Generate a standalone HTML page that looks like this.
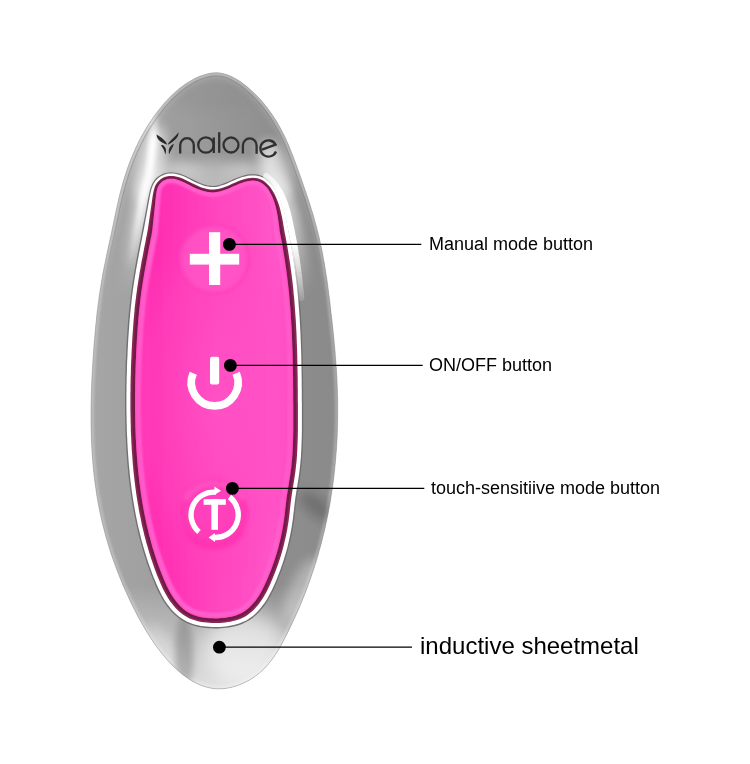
<!DOCTYPE html>
<html><head><meta charset="utf-8">
<style>
html,body{margin:0;padding:0;background:#fff;}
body{width:750px;height:764px;overflow:hidden;position:relative;font-family:"Liberation Sans",sans-serif;}
svg{position:absolute;left:0;top:0;}
.lbl{position:absolute;white-space:nowrap;color:#000;line-height:1;will-change:transform;-webkit-font-smoothing:antialiased;}
</style></head><body>
<svg width="750" height="764" viewBox="0 0 750 764">
<defs>
<clipPath id="clipO"><path d="M214.5,72.8L217.9,72.8L221.2,73.2L224.5,74.0L227.8,75.0L231.0,76.3L234.2,77.9L237.3,79.7L240.3,81.6L243.3,83.8L246.2,86.1L249.0,88.4L251.8,90.9L254.4,93.4L257.0,96.0L259.5,98.6L261.9,101.2L264.2,104.0L266.4,106.7L268.5,109.5L270.6,112.4L272.6,115.2L274.5,118.2L276.4,121.1L278.1,124.1L279.9,127.2L281.5,130.3L283.1,133.4L284.7,136.5L286.2,139.7L287.6,142.9L289.0,146.1L290.3,149.4L291.6,152.7L292.9,156.0L294.2,159.3L295.4,162.6L296.6,165.9L297.8,169.2L299.0,172.6L300.2,175.9L301.4,179.2L302.5,182.6L303.7,185.9L304.8,189.3L306.0,192.6L307.1,195.9L308.2,199.3L309.3,202.6L310.4,206.0L311.4,209.4L312.5,212.7L313.5,216.1L314.4,219.5L315.4,222.9L316.3,226.3L317.2,229.7L318.1,233.1L318.9,236.5L319.7,239.9L320.4,243.4L321.2,246.8L321.9,250.2L322.6,253.7L323.2,257.2L323.8,260.6L324.5,264.1L325.0,267.6L325.6,271.1L326.1,274.6L326.7,278.0L327.2,281.5L327.7,285.0L328.1,288.5L328.6,292.0L329.0,295.5L329.5,299.1L329.9,302.6L330.3,306.1L330.7,309.6L331.1,313.1L331.5,316.6L331.9,320.1L332.3,323.6L332.7,327.1L333.1,330.6L333.4,334.1L333.8,337.6L334.1,341.1L334.4,344.6L334.7,348.1L335.1,351.6L335.3,355.2L335.6,358.7L335.9,362.2L336.1,365.7L336.4,369.2L336.6,372.7L336.8,376.2L337.0,379.7L337.1,383.2L337.3,386.8L337.4,390.3L337.5,393.8L337.6,397.3L337.7,400.9L337.7,404.4L337.7,407.9L337.7,411.4L337.7,415.0L337.7,418.5L337.6,422.0L337.5,425.6L337.4,429.1L337.3,432.6L337.2,436.1L337.0,439.7L336.8,443.2L336.6,446.7L336.4,450.2L336.1,453.8L335.8,457.3L335.5,460.8L335.2,464.3L334.8,467.8L334.5,471.3L334.1,474.8L333.7,478.4L333.2,481.9L332.8,485.4L332.3,488.8L331.7,492.3L331.2,495.8L330.7,499.3L330.1,502.8L329.5,506.2L328.8,509.7L328.2,513.2L327.5,516.6L326.8,520.1L326.0,523.5L325.3,527.0L324.5,530.4L323.7,533.8L322.8,537.2L322.0,540.6L321.1,544.1L320.2,547.4L319.2,550.8L318.3,554.2L317.3,557.6L316.3,561.0L315.2,564.3L314.2,567.7L313.1,571.0L311.9,574.3L310.8,577.7L309.6,581.0L308.4,584.3L307.2,587.6L306.0,590.9L304.7,594.2L303.4,597.4L302.1,600.7L300.7,604.0L299.4,607.2L298.0,610.5L296.5,613.7L295.1,616.9L293.6,620.1L292.1,623.3L290.6,626.5L289.1,629.7L287.5,632.9L285.9,636.1L284.3,639.2L282.6,642.4L280.9,645.5L279.2,648.5L277.4,651.6L275.5,654.5L273.5,657.4L271.4,660.3L269.2,663.0L266.9,665.7L264.6,668.2L262.0,670.7L259.4,673.0L256.6,675.3L253.6,677.4L250.5,679.4L247.3,681.2L244.0,682.8L240.7,684.3L237.2,685.6L233.7,686.7L230.2,687.6L226.7,688.2L223.1,688.7L219.6,688.8L216.2,688.8L212.8,688.4L209.4,687.8L206.1,687.0L202.9,686.0L199.7,684.8L196.5,683.3L193.4,681.7L190.4,680.0L187.5,678.0L184.6,676.0L181.7,673.8L179.0,671.4L176.3,669.0L173.6,666.5L171.0,663.9L168.5,661.2L166.1,658.5L163.8,655.7L161.5,652.9L159.2,650.1L157.1,647.2L155.0,644.4L153.0,641.5L151.0,638.6L149.1,635.6L147.2,632.6L145.4,629.7L143.6,626.6L141.9,623.6L140.2,620.6L138.5,617.5L136.9,614.4L135.3,611.3L133.7,608.2L132.1,605.1L130.6,601.9L129.1,598.7L127.6,595.5L126.2,592.3L124.7,589.1L123.3,585.9L121.9,582.6L120.6,579.4L119.3,576.1L118.0,572.8L116.7,569.5L115.5,566.2L114.3,562.9L113.1,559.6L111.9,556.2L110.8,552.9L109.7,549.5L108.7,546.1L107.7,542.7L106.7,539.4L105.7,536.0L104.8,532.5L103.9,529.1L103.0,525.7L102.2,522.3L101.4,518.8L100.6,515.4L99.9,512.0L99.2,508.5L98.5,505.1L97.9,501.6L97.3,498.1L96.7,494.7L96.2,491.2L95.7,487.7L95.2,484.2L94.7,480.7L94.3,477.2L93.9,473.7L93.5,470.2L93.2,466.7L92.9,463.2L92.6,459.7L92.3,456.2L92.1,452.7L91.9,449.2L91.7,445.7L91.5,442.2L91.4,438.6L91.3,435.1L91.2,431.6L91.1,428.1L91.0,424.5L91.0,421.0L91.0,417.5L91.0,413.9L91.0,410.4L91.0,406.9L91.1,403.3L91.2,399.8L91.3,396.3L91.4,392.7L91.5,389.2L91.6,385.7L91.8,382.1L91.9,378.6L92.1,375.1L92.3,371.5L92.5,368.0L92.7,364.5L92.9,361.0L93.1,357.4L93.4,353.9L93.6,350.4L93.9,346.9L94.2,343.4L94.5,339.9L94.8,336.3L95.1,332.8L95.4,329.3L95.7,325.8L96.1,322.3L96.5,318.8L96.8,315.3L97.2,311.8L97.7,308.3L98.1,304.9L98.6,301.4L99.0,297.9L99.5,294.4L100.0,290.9L100.6,287.5L101.1,284.0L101.7,280.5L102.3,277.1L102.9,273.6L103.6,270.1L104.3,266.7L105.0,263.2L105.7,259.8L106.4,256.3L107.1,252.9L107.9,249.4L108.6,246.0L109.4,242.5L110.1,239.1L110.9,235.6L111.6,232.2L112.3,228.7L113.1,225.2L113.8,221.7L114.5,218.3L115.2,214.8L116.0,211.3L116.7,207.8L117.5,204.4L118.3,200.9L119.1,197.5L119.9,194.0L120.8,190.6L121.7,187.2L122.6,183.8L123.6,180.5L124.6,177.1L125.7,173.8L126.8,170.5L127.9,167.2L129.1,163.9L130.4,160.6L131.7,157.4L133.0,154.2L134.4,151.0L135.8,147.8L137.3,144.7L138.8,141.5L140.4,138.4L142.1,135.3L143.8,132.3L145.6,129.2L147.4,126.2L149.3,123.2L151.3,120.3L153.3,117.3L155.4,114.4L157.5,111.5L159.8,108.7L162.1,105.9L164.4,103.1L166.9,100.4L169.4,97.8L171.9,95.2L174.6,92.7L177.3,90.3L180.0,88.1L182.9,85.9L185.8,83.8L188.7,81.9L191.8,80.2L194.8,78.5L198.0,77.1L201.2,75.8L204.5,74.7L207.8,73.8L211.2,73.1Z"/></clipPath>
<linearGradient id="topfade" x1="0" y1="150" x2="0" y2="300" gradientUnits="userSpaceOnUse"><stop offset="0" stop-color="#fff"/><stop offset="0.4" stop-color="#fff"/><stop offset="1" stop-color="#000"/></linearGradient>
<mask id="maskTop" maskUnits="userSpaceOnUse" x="0" y="0" width="750" height="764"><rect x="0" y="0" width="750" height="764" fill="url(#topfade)"/></mask>
<clipPath id="clipP"><path d="M159.6,184.0L160.9,182.7L162.2,181.5L163.8,180.5L165.5,179.7L167.3,179.1L169.2,178.8L171.1,178.7L173.1,178.8L175.2,179.1L177.4,179.7L179.7,180.5L182.0,181.4L184.4,182.5L186.9,183.7L189.4,185.0L192.1,186.4L194.8,187.7L197.6,188.9L200.5,190.0L203.5,191.0L206.6,191.7L209.9,192.2L213.2,192.4L216.5,192.1L219.7,191.4L222.8,190.6L225.7,189.6L228.5,188.5L231.3,187.3L234.0,186.1L236.6,184.9L239.1,183.8L241.6,182.9L244.0,182.1L246.3,181.4L248.6,181.0L250.8,180.7L253.0,180.6L255.0,180.7L256.9,181.0L258.6,181.5L260.3,182.2L262.0,183.2L263.6,184.4L265.3,185.9L266.9,187.6L268.4,189.5L269.7,191.7L270.9,193.9L272.0,196.1L273.0,198.4L273.9,200.7L274.7,203.1L275.4,205.5L276.0,207.9L276.6,210.4L277.1,212.9L277.6,215.5L278.0,218.1L278.4,220.7L278.8,223.4L279.2,226.1L279.5,228.8L279.8,231.5L280.3,234.2L280.9,236.9L281.4,239.6L281.9,242.2L282.4,244.9L282.8,247.6L283.3,250.3L283.7,253.0L284.2,255.7L284.6,258.4L285.0,261.1L285.4,263.7L285.8,266.4L286.2,269.1L286.6,271.8L286.9,274.5L287.3,277.2L287.6,279.9L287.9,282.6L288.2,285.4L288.5,288.1L288.8,290.8L289.1,293.5L289.3,296.2L289.6,298.9L289.8,301.6L290.0,304.3L290.3,307.0L290.5,309.8L290.7,312.5L290.8,315.2L291.0,317.9L291.2,320.7L291.3,323.4L291.5,326.1L291.6,328.9L291.8,331.6L291.9,334.3L292.0,337.1L292.1,339.8L292.2,342.6L292.3,345.3L292.4,348.0L292.5,350.8L292.6,353.5L292.7,356.3L292.7,359.0L292.8,361.8L292.8,364.5L292.9,367.3L292.9,370.0L293.0,372.8L293.0,375.6L293.1,378.3L293.1,381.1L293.1,383.8L293.1,386.6L293.2,389.4L293.2,392.1L293.2,394.9L293.2,397.7L293.2,400.4L293.3,403.2L293.3,406.0L293.3,408.7L293.3,411.5L293.3,414.3L293.3,417.0L293.3,419.8L293.3,422.5L293.3,425.3L293.3,428.0L293.3,430.7L293.2,433.4L293.2,436.2L293.1,438.9L293.0,441.6L292.9,444.3L292.8,447.0L292.7,449.7L292.6,452.3L292.4,455.0L292.2,457.7L292.0,460.3L291.7,463.0L291.5,465.6L291.2,468.3L290.8,470.9L290.5,473.6L290.1,476.2L289.7,478.9L289.2,481.6L288.8,484.3L288.3,487.1L287.9,489.8L287.5,492.6L287.0,495.5L286.6,498.3L286.3,501.2L285.9,504.0L285.6,506.8L285.3,509.5L285.0,512.3L284.7,514.9L284.4,517.6L284.0,520.2L283.6,522.8L283.2,525.5L282.7,528.1L282.3,530.7L281.8,533.3L281.2,535.9L280.6,538.5L280.1,541.1L279.4,543.6L278.8,546.2L278.1,548.8L277.4,551.3L276.6,553.9L275.8,556.4L275.0,558.9L274.2,561.4L273.3,563.9L272.4,566.4L271.5,568.9L270.5,571.4L269.5,573.9L268.5,576.4L267.5,578.8L266.5,581.3L265.4,583.6L264.3,586.0L263.1,588.3L262.0,590.5L260.8,592.7L259.5,594.9L258.2,596.9L256.8,598.9L255.4,600.9L253.9,602.8L252.3,604.5L250.7,606.2L249.1,607.8L247.4,609.3L245.7,610.6L244.0,611.8L242.2,612.8L240.3,613.8L238.3,614.6L236.2,615.4L234.1,616.1L231.8,616.7L229.5,617.1L227.2,617.5L224.7,617.9L222.3,618.1L219.7,618.3L217.2,618.4L214.6,618.4L212.0,618.3L209.5,618.2L207.0,618.0L204.6,617.7L202.2,617.4L199.9,616.9L197.7,616.4L195.6,615.8L193.5,615.0L191.5,614.2L189.6,613.2L187.7,612.2L185.9,611.0L184.1,609.7L182.4,608.3L180.8,606.7L179.1,605.1L177.6,603.3L176.1,601.5L174.6,599.6L173.2,597.6L171.9,595.6L170.7,593.5L169.4,591.3L168.3,589.1L167.1,586.8L166.0,584.5L165.0,582.1L163.9,579.7L162.9,577.3L161.9,574.8L160.9,572.3L160.0,569.8L159.0,567.3L158.1,564.8L157.2,562.2L156.4,559.7L155.5,557.1L154.7,554.6L153.9,552.0L153.1,549.4L152.3,546.9L151.6,544.3L150.9,541.7L150.2,539.1L149.5,536.5L148.8,533.9L148.2,531.2L147.5,528.6L146.9,526.0L146.3,523.4L145.8,520.7L145.2,518.1L144.7,515.4L144.1,512.8L143.6,510.1L143.2,507.5L142.7,504.8L142.2,502.2L141.8,499.5L141.4,496.8L141.0,494.1L140.6,491.5L140.2,488.8L139.9,486.1L139.5,483.4L139.2,480.7L138.9,478.0L138.6,475.3L138.3,472.6L138.0,469.9L137.8,467.2L137.5,464.5L137.3,461.8L137.1,459.1L136.9,456.4L136.7,453.6L136.5,450.9L136.3,448.2L136.2,445.5L136.0,442.8L135.9,440.0L135.7,437.3L135.6,434.6L135.5,431.8L135.4,429.1L135.3,426.4L135.3,423.6L135.2,420.9L135.2,418.2L135.1,415.4L135.1,412.7L135.0,409.9L135.0,407.2L135.0,404.5L135.0,401.7L135.0,399.0L135.0,396.2L135.0,393.5L135.1,390.7L135.1,388.0L135.1,385.3L135.2,382.5L135.2,379.8L135.3,377.0L135.4,374.3L135.5,371.6L135.5,368.8L135.6,366.1L135.7,363.3L135.8,360.6L136.0,357.9L136.1,355.1L136.2,352.4L136.3,349.6L136.5,346.9L136.6,344.2L136.8,341.4L136.9,338.7L137.1,336.0L137.3,333.2L137.5,330.5L137.6,327.8L137.9,325.1L138.1,322.3L138.3,319.6L138.5,316.9L138.8,314.2L139.0,311.5L139.3,308.8L139.6,306.1L139.9,303.4L140.2,300.7L140.5,298.0L140.9,295.3L141.2,292.6L141.6,289.9L142.0,287.2L142.4,284.6L142.8,281.9L143.2,279.2L143.7,276.5L144.1,273.8L144.6,271.1L145.1,268.4L145.6,265.7L146.1,263.0L146.6,260.3L147.1,257.6L147.6,254.9L148.1,252.2L148.6,249.5L149.1,246.8L149.7,244.0L150.2,241.3L150.7,238.6L151.3,235.9L151.8,233.2L152.2,230.5L152.5,227.7L152.8,225.0L153.1,222.2L153.4,219.5L153.7,216.7L154.0,214.0L154.3,211.2L154.6,208.4L154.9,205.5L155.2,202.6L155.5,199.8L155.8,197.0L156.1,194.3L156.5,191.8L157.0,189.4L157.7,187.3L158.6,185.5Z"/></clipPath>
<filter id="b3" x="-50%" y="-50%" width="200%" height="200%"><feGaussianBlur stdDeviation="3"/></filter>
<filter id="b2" x="-50%" y="-50%" width="200%" height="200%"><feGaussianBlur stdDeviation="2"/></filter>
<filter id="b6" x="-50%" y="-50%" width="200%" height="200%"><feGaussianBlur stdDeviation="6"/></filter>
<filter id="b10" x="-50%" y="-50%" width="200%" height="200%"><feGaussianBlur stdDeviation="10"/></filter>
<filter id="b1" x="-50%" y="-50%" width="200%" height="200%"><feGaussianBlur stdDeviation="1"/></filter>
<filter id="b05" x="-50%" y="-50%" width="200%" height="200%"><feGaussianBlur stdDeviation="0.5"/></filter>
<linearGradient id="silv" x1="91" y1="0" x2="338" y2="0" gradientUnits="userSpaceOnUse">
<stop offset="0" stop-color="#a6a6a6"/>
<stop offset="0.4" stop-color="#9c9c9c"/>
<stop offset="0.75" stop-color="#8e8e8e"/>
<stop offset="1" stop-color="#8a8a8a"/>
</linearGradient>
<linearGradient id="botl" x1="0" y1="585" x2="0" y2="690" gradientUnits="userSpaceOnUse">
<stop offset="0" stop-color="#fff" stop-opacity="0"/>
<stop offset="0.5" stop-color="#fff" stop-opacity="0.35"/>
<stop offset="1" stop-color="#fff" stop-opacity="0.7"/>
</linearGradient>
<linearGradient id="lsf" x1="0" y1="110" x2="0" y2="270" gradientUnits="userSpaceOnUse">
<stop offset="0" stop-color="#fff" stop-opacity="0"/>
<stop offset="0.2" stop-color="#fff" stop-opacity="1"/>
<stop offset="0.55" stop-color="#fff" stop-opacity="0.85"/>
<stop offset="1" stop-color="#fff" stop-opacity="0"/>
</linearGradient>
<linearGradient id="rsf2" x1="0" y1="175" x2="0" y2="310" gradientUnits="userSpaceOnUse">
<stop offset="0" stop-color="#fff" stop-opacity="0.6"/>
<stop offset="0.12" stop-color="#fff" stop-opacity="1"/>
<stop offset="0.5" stop-color="#fff" stop-opacity="1"/>
<stop offset="1" stop-color="#fff" stop-opacity="0"/>
</linearGradient>
<linearGradient id="rsf" x1="0" y1="130" x2="0" y2="290" gradientUnits="userSpaceOnUse">
<stop offset="0" stop-color="#fff" stop-opacity="0"/>
<stop offset="0.2" stop-color="#fff" stop-opacity="0.95"/>
<stop offset="0.5" stop-color="#fff" stop-opacity="0.9"/>
<stop offset="1" stop-color="#fff" stop-opacity="0"/>
</linearGradient>
<radialGradient id="pinkc" cx="214" cy="400" r="120" gradientUnits="userSpaceOnUse" gradientTransform="translate(214 400) scale(0.8 1.6) translate(-214 -400)">
<stop offset="0" stop-color="#ff58c8" stop-opacity="1"/>
<stop offset="0.7" stop-color="#ff4cc2" stop-opacity="0.6"/>
<stop offset="1" stop-color="#ff3ab8" stop-opacity="0"/>
</radialGradient>
<linearGradient id="pinkh" x1="135" y1="0" x2="300" y2="0" gradientUnits="userSpaceOnUse">
<stop offset="0" stop-color="#ff32b4"/>
<stop offset="0.15" stop-color="#ff2eb2"/>
<stop offset="0.5" stop-color="#ff46bf"/>
<stop offset="0.85" stop-color="#ff56c8"/>
<stop offset="1" stop-color="#ff4cc4"/>
</linearGradient>
<radialGradient id="plusg" cx="0.5" cy="0.5" r="0.5">
<stop offset="0" stop-color="#ff58c8"/>
<stop offset="0.85" stop-color="#ff54c6"/>
<stop offset="1" stop-color="#ff3cb8"/>
</radialGradient>
<radialGradient id="tg" cx="0.5" cy="0.5" r="0.5" fx="0.5" fy="0.35">
<stop offset="0" stop-color="#ff46be"/>
<stop offset="0.8" stop-color="#ff3cb8"/>
<stop offset="1" stop-color="#ff34b2"/>
</radialGradient>
</defs>
<g clip-path="url(#clipO)">
<rect x="80" y="60" width="270" height="640" fill="url(#silv)"/>
<path d="M214.5,72.8L217.9,72.8L221.2,73.2L224.5,74.0L227.8,75.0L231.0,76.3L234.2,77.9L237.3,79.7L240.3,81.6L243.3,83.8L246.2,86.1L249.0,88.4L251.8,90.9L254.4,93.4L257.0,96.0L259.5,98.6L261.9,101.2L264.2,104.0L266.4,106.7L268.5,109.5L270.6,112.4L272.6,115.2L274.5,118.2L276.4,121.1L278.1,124.1L279.9,127.2L281.5,130.3L283.1,133.4L284.7,136.5L286.2,139.7L287.6,142.9L289.0,146.1L290.3,149.4L291.6,152.7L292.9,156.0L294.2,159.3L295.4,162.6L296.6,165.9L297.8,169.2L299.0,172.6L300.2,175.9L301.4,179.2L302.5,182.6L303.7,185.9L304.8,189.3L306.0,192.6L307.1,195.9L308.2,199.3L309.3,202.6L310.4,206.0L311.4,209.4L312.5,212.7L313.5,216.1L314.4,219.5L315.4,222.9L316.3,226.3L317.2,229.7L318.1,233.1L318.9,236.5L319.7,239.9L320.4,243.4L321.2,246.8L321.9,250.2L322.6,253.7L323.2,257.2L323.8,260.6L324.5,264.1L325.0,267.6L325.6,271.1L326.1,274.6L326.7,278.0L327.2,281.5L327.7,285.0L328.1,288.5L328.6,292.0L329.0,295.5L329.5,299.1L329.9,302.6L330.3,306.1L330.7,309.6L331.1,313.1L331.5,316.6L331.9,320.1L332.3,323.6L332.7,327.1L333.1,330.6L333.4,334.1L333.8,337.6L334.1,341.1L334.4,344.6L334.7,348.1L335.1,351.6L335.3,355.2L335.6,358.7L335.9,362.2L336.1,365.7L336.4,369.2L336.6,372.7L336.8,376.2L337.0,379.7L337.1,383.2L337.3,386.8L337.4,390.3L337.5,393.8L337.6,397.3L337.7,400.9L337.7,404.4L337.7,407.9L337.7,411.4L337.7,415.0L337.7,418.5L337.6,422.0L337.5,425.6L337.4,429.1L337.3,432.6L337.2,436.1L337.0,439.7L336.8,443.2L336.6,446.7L336.4,450.2L336.1,453.8L335.8,457.3L335.5,460.8L335.2,464.3L334.8,467.8L334.5,471.3L334.1,474.8L333.7,478.4L333.2,481.9L332.8,485.4L332.3,488.8L331.7,492.3L331.2,495.8L330.7,499.3L330.1,502.8L329.5,506.2L328.8,509.7L328.2,513.2L327.5,516.6L326.8,520.1L326.0,523.5L325.3,527.0L324.5,530.4L323.7,533.8L322.8,537.2L322.0,540.6L321.1,544.1L320.2,547.4L319.2,550.8L318.3,554.2L317.3,557.6L316.3,561.0L315.2,564.3L314.2,567.7L313.1,571.0L311.9,574.3L310.8,577.7L309.6,581.0L308.4,584.3L307.2,587.6L306.0,590.9L304.7,594.2L303.4,597.4L302.1,600.7L300.7,604.0L299.4,607.2L298.0,610.5L296.5,613.7L295.1,616.9L293.6,620.1L292.1,623.3L290.6,626.5L289.1,629.7L287.5,632.9L285.9,636.1L284.3,639.2L282.6,642.4L280.9,645.5L279.2,648.5L277.4,651.6L275.5,654.5L273.5,657.4L271.4,660.3L269.2,663.0L266.9,665.7L264.6,668.2L262.0,670.7L259.4,673.0L256.6,675.3L253.6,677.4L250.5,679.4L247.3,681.2L244.0,682.8L240.7,684.3L237.2,685.6L233.7,686.7L230.2,687.6L226.7,688.2L223.1,688.7L219.6,688.8L216.2,688.8L212.8,688.4L209.4,687.8L206.1,687.0L202.9,686.0L199.7,684.8L196.5,683.3L193.4,681.7L190.4,680.0L187.5,678.0L184.6,676.0L181.7,673.8L179.0,671.4L176.3,669.0L173.6,666.5L171.0,663.9L168.5,661.2L166.1,658.5L163.8,655.7L161.5,652.9L159.2,650.1L157.1,647.2L155.0,644.4L153.0,641.5L151.0,638.6L149.1,635.6L147.2,632.6L145.4,629.7L143.6,626.6L141.9,623.6L140.2,620.6L138.5,617.5L136.9,614.4L135.3,611.3L133.7,608.2L132.1,605.1L130.6,601.9L129.1,598.7L127.6,595.5L126.2,592.3L124.7,589.1L123.3,585.9L121.9,582.6L120.6,579.4L119.3,576.1L118.0,572.8L116.7,569.5L115.5,566.2L114.3,562.9L113.1,559.6L111.9,556.2L110.8,552.9L109.7,549.5L108.7,546.1L107.7,542.7L106.7,539.4L105.7,536.0L104.8,532.5L103.9,529.1L103.0,525.7L102.2,522.3L101.4,518.8L100.6,515.4L99.9,512.0L99.2,508.5L98.5,505.1L97.9,501.6L97.3,498.1L96.7,494.7L96.2,491.2L95.7,487.7L95.2,484.2L94.7,480.7L94.3,477.2L93.9,473.7L93.5,470.2L93.2,466.7L92.9,463.2L92.6,459.7L92.3,456.2L92.1,452.7L91.9,449.2L91.7,445.7L91.5,442.2L91.4,438.6L91.3,435.1L91.2,431.6L91.1,428.1L91.0,424.5L91.0,421.0L91.0,417.5L91.0,413.9L91.0,410.4L91.0,406.9L91.1,403.3L91.2,399.8L91.3,396.3L91.4,392.7L91.5,389.2L91.6,385.7L91.8,382.1L91.9,378.6L92.1,375.1L92.3,371.5L92.5,368.0L92.7,364.5L92.9,361.0L93.1,357.4L93.4,353.9L93.6,350.4L93.9,346.9L94.2,343.4L94.5,339.9L94.8,336.3L95.1,332.8L95.4,329.3L95.7,325.8L96.1,322.3L96.5,318.8L96.8,315.3L97.2,311.8L97.7,308.3L98.1,304.9L98.6,301.4L99.0,297.9L99.5,294.4L100.0,290.9L100.6,287.5L101.1,284.0L101.7,280.5L102.3,277.1L102.9,273.6L103.6,270.1L104.3,266.7L105.0,263.2L105.7,259.8L106.4,256.3L107.1,252.9L107.9,249.4L108.6,246.0L109.4,242.5L110.1,239.1L110.9,235.6L111.6,232.2L112.3,228.7L113.1,225.2L113.8,221.7L114.5,218.3L115.2,214.8L116.0,211.3L116.7,207.8L117.5,204.4L118.3,200.9L119.1,197.5L119.9,194.0L120.8,190.6L121.7,187.2L122.6,183.8L123.6,180.5L124.6,177.1L125.7,173.8L126.8,170.5L127.9,167.2L129.1,163.9L130.4,160.6L131.7,157.4L133.0,154.2L134.4,151.0L135.8,147.8L137.3,144.7L138.8,141.5L140.4,138.4L142.1,135.3L143.8,132.3L145.6,129.2L147.4,126.2L149.3,123.2L151.3,120.3L153.3,117.3L155.4,114.4L157.5,111.5L159.8,108.7L162.1,105.9L164.4,103.1L166.9,100.4L169.4,97.8L171.9,95.2L174.6,92.7L177.3,90.3L180.0,88.1L182.9,85.9L185.8,83.8L188.7,81.9L191.8,80.2L194.8,78.5L198.0,77.1L201.2,75.8L204.5,74.7L207.8,73.8L211.2,73.1Z" fill="none" stroke="#fff" stroke-width="6" opacity="0.25" filter="url(#b1)"/>
<!-- bottom light -->
<rect x="80" y="560" width="270" height="140" fill="url(#botl)"/>
<ellipse cx="245" cy="650" rx="42" ry="38" fill="#fff" opacity="0.6" filter="url(#b10)"/>
<ellipse cx="165" cy="650" rx="10" ry="30" fill="#fff" opacity="0.3" filter="url(#b6)" transform="rotate(-35 165 650)"/>
<ellipse cx="184" cy="655" rx="9" ry="40" fill="#707070" opacity="0.4" filter="url(#b3)"/>
<ellipse cx="316" cy="506" rx="20" ry="8" fill="#4a4a4a" opacity="0.45" filter="url(#b6)" transform="rotate(40 316 506)"/>
<ellipse cx="302" cy="590" rx="12" ry="35" fill="#fff" opacity="0.35" filter="url(#b6)" transform="rotate(25 302 590)"/>
<!-- top highlights -->
<path d="M154.6,180.0L156.4,178.0L158.5,176.3L160.7,174.9L163.2,173.8L165.7,172.9L168.4,172.4L171.1,172.3L173.8,172.4L176.5,172.9L179.2,173.6L181.9,174.5L184.5,175.5L187.1,176.7L189.7,178.0L192.3,179.3L194.9,180.6L197.5,181.8L200.0,183.0L202.6,184.0L205.2,184.8L207.8,185.4L210.5,185.8L213.1,185.9L215.7,185.7L218.3,185.2L220.9,184.5L223.5,183.6L226.1,182.5L228.7,181.4L231.4,180.2L234.0,179.1L236.7,177.9L239.4,176.9L242.1,175.9L244.8,175.2L247.6,174.6L250.3,174.3L253.0,174.2L255.7,174.3L258.3,174.8L260.8,175.5L263.2,176.5L265.5,177.8L267.7,179.5L269.7,181.3L271.7,183.4L273.5,185.6L275.2,187.9L276.7,190.3L278.2,192.7L279.5,195.2L280.7,197.7L281.7,200.2L282.7,202.8L283.7,205.4L284.5,208.0L285.3,210.7L286.0,213.3L286.7,216.0L287.3,218.7L287.9,221.4L288.5,224.1L289.0,226.8L289.6,229.6L290.1,232.3L290.7,235.0L291.2,237.7L291.7,240.4L292.2,243.2L292.7,245.9L293.1,248.6L293.6,251.4L294.1,254.1L294.5,256.8L294.9,259.6L295.3,262.3L295.7,265.0L296.1,267.8L296.5,270.5L296.8,273.3L297.2,276.0L297.5,278.7L297.8,281.5L298.1,284.2L298.4,287.0L298.7,289.7L299.0,292.5L299.3,295.3L299.5,298.0L299.8,300.8L300.0,303.5L300.2,306.3L300.4,309.0L300.6,311.8L300.8,314.6L301.0,317.3L301.2,320.1L301.3,322.8L301.5,325.6L301.6,328.4L301.8,331.1L301.9,333.9L302.0,336.7L302.1,339.4L302.2,342.2L302.3,345.0L302.4,347.7L302.5,350.5L302.6,353.3L302.7,356.0L302.7,358.8L302.8,361.6L302.8,364.3L302.9,367.1L302.9,369.9L303.0,372.7L303.0,375.4L303.1,378.2L303.1,381.0L303.1,383.7L303.1,386.5L303.2,389.3L303.2,392.1L303.2,394.8L303.2,397.6L303.2,400.4L303.3,403.1L303.3,405.9L303.3,408.7L303.3,411.5L303.3,414.2L303.3,417.0L303.3,419.8L303.3,422.5L303.3,425.3L303.3,428.1L303.3,430.8L303.2,433.6L303.2,436.4L303.1,439.1L303.0,441.9L302.9,444.7L302.8,447.4L302.7,450.2L302.5,452.9L302.4,455.7L302.2,458.4L301.9,461.2L301.7,464.0L301.4,466.7L301.1,469.5L300.8,472.2L300.4,475.0L300.0,477.7L299.6,480.4L299.1,483.2L298.7,485.9L298.2,488.7L297.8,491.4L297.3,494.2L296.9,496.9L296.5,499.7L296.2,502.4L295.9,505.2L295.6,507.9L295.2,510.6L294.9,513.4L294.6,516.1L294.3,518.9L293.9,521.6L293.5,524.4L293.1,527.1L292.6,529.8L292.1,532.5L291.6,535.3L291.0,538.0L290.4,540.7L289.8,543.4L289.1,546.1L288.4,548.8L287.7,551.4L287.0,554.1L286.2,556.8L285.4,559.4L284.5,562.0L283.6,564.6L282.7,567.3L281.8,569.9L280.8,572.5L279.8,575.0L278.8,577.6L277.8,580.2L276.7,582.7L275.6,585.3L274.5,587.8L273.3,590.3L272.1,592.8L270.8,595.3L269.4,597.7L268.0,600.1L266.5,602.4L265.0,604.7L263.3,607.0L261.6,609.1L259.8,611.3L257.8,613.3L255.8,615.2L253.7,617.0L251.6,618.7L249.3,620.2L246.9,621.6L244.5,622.8L242.0,623.9L239.4,624.9L236.8,625.7L234.1,626.4L231.4,627.0L228.7,627.4L225.9,627.8L223.1,628.1L220.2,628.3L217.4,628.4L214.6,628.4L211.7,628.3L208.9,628.2L206.1,628.0L203.3,627.7L200.5,627.2L197.8,626.7L195.1,626.0L192.5,625.3L189.9,624.3L187.3,623.3L184.9,622.1L182.5,620.7L180.2,619.2L178.0,617.6L175.8,615.8L173.8,613.9L171.8,611.9L170.0,609.8L168.2,607.7L166.5,605.5L165.0,603.2L163.4,600.9L162.0,598.5L160.7,596.1L159.4,593.7L158.1,591.2L157.0,588.7L155.8,586.2L154.7,583.6L153.7,581.1L152.6,578.5L151.6,575.9L150.6,573.3L149.6,570.7L148.7,568.1L147.8,565.5L146.9,562.9L146.0,560.2L145.2,557.6L144.3,555.0L143.5,552.3L142.7,549.7L142.0,547.0L141.2,544.3L140.5,541.7L139.8,539.0L139.1,536.3L138.4,533.6L137.8,530.9L137.2,528.2L136.6,525.5L136.0,522.8L135.4,520.1L134.9,517.4L134.3,514.7L133.8,512.0L133.3,509.2L132.8,506.5L132.4,503.8L131.9,501.1L131.5,498.3L131.1,495.6L130.7,492.9L130.3,490.1L129.9,487.4L129.6,484.6L129.3,481.9L128.9,479.1L128.6,476.4L128.3,473.6L128.1,470.9L127.8,468.1L127.6,465.4L127.3,462.6L127.1,459.9L126.9,457.1L126.7,454.3L126.5,451.6L126.3,448.8L126.2,446.0L126.0,443.3L125.9,440.5L125.8,437.7L125.6,435.0L125.5,432.2L125.4,429.4L125.4,426.7L125.3,423.9L125.2,421.1L125.2,418.3L125.1,415.6L125.1,412.8L125.0,410.0L125.0,407.3L125.0,404.5L125.0,401.7L125.0,398.9L125.0,396.2L125.0,393.4L125.1,390.6L125.1,387.9L125.1,385.1L125.2,382.3L125.2,379.6L125.3,376.8L125.4,374.0L125.5,371.3L125.5,368.5L125.6,365.7L125.7,363.0L125.8,360.2L126.0,357.4L126.1,354.7L126.2,351.9L126.3,349.1L126.5,346.4L126.6,343.6L126.8,340.9L126.9,338.1L127.1,335.3L127.3,332.6L127.5,329.8L127.7,327.1L127.9,324.3L128.1,321.5L128.3,318.8L128.6,316.0L128.8,313.3L129.1,310.5L129.4,307.8L129.7,305.0L130.0,302.3L130.3,299.5L130.6,296.8L131.0,294.0L131.3,291.3L131.7,288.5L132.1,285.8L132.5,283.0L132.9,280.3L133.4,277.6L133.8,274.8L134.3,272.1L134.8,269.4L135.2,266.6L135.7,263.9L136.2,261.2L136.7,258.4L137.2,255.7L137.8,253.0L138.3,250.3L138.8,247.6L139.3,244.8L139.9,242.1L140.4,239.4L140.9,236.7L141.5,234.0L142.0,231.3L142.5,228.6L143.0,225.9L143.5,223.2L144.1,220.5L144.6,217.8L145.1,215.1L145.6,212.4L146.1,209.7L146.6,206.9L147.1,204.1L147.6,201.3L148.1,198.4L148.7,195.6L149.3,192.7L150.0,189.9L150.8,187.2L151.9,184.6L153.1,182.2Z" fill="none" stroke="#fff" stroke-width="22" opacity="0.35" filter="url(#b6)" mask="url(#maskTop)"/>
<path d="M154.0,118.0L153.0,140.0L151.0,160.0L149.0,175.0L146.1,185.5L145.2,188.5L144.4,191.6L143.8,194.6L143.2,197.5L142.7,200.4L142.2,203.2L141.7,206.0L141.2,208.8L140.7,211.5L140.2,214.2L139.7,216.9L139.2,219.6L138.6,222.3L138.1,225.0L137.6,227.6L137.1,230.3L136.5,233.0L136.0,235.7L135.5,238.5L135.0,241.2L134.4,243.9L133.9,246.6L133.4,249.3L132.8,252.1L132.3,254.8L131.8,257.5L131.3,260.3L130.8,263.0L130.3,265.8L129.8,268.5L129.4,271.3L128.9,274.0L128.4,276.8L128.0,279.5L127.6,282.3L127.2,285.1L126.8,287.8L126.4,290.6L126.0,293.4L125.7,296.2L125.3,298.9L125.0,301.7L124.7,304.5L124.4,307.3L124.1,310.0L123.8,312.8L123.6,315.6L123.4,318.4L123.1,321.1L122.9,323.9L122.7,326.7L122.5,329.5L122.3,332.2L122.1,335.0L122.0,337.8L121.8,340.6L121.6,343.3L121.5,346.1L121.3,348.9L121.2,351.7L121.1,354.4L121.0,357.2L120.9,360.0L120.7,362.8L120.6,365.6L120.5,368.3L120.5,371.1L120.4,373.9L120.3,376.7L120.2,379.5" fill="none" stroke="url(#lsf)" stroke-width="18" stroke-linecap="round" opacity="0.4" filter="url(#b6)"/>
<path d="M154.0,118.0L153.0,140.0L151.0,160.0L149.0,175.0L146.1,185.5L145.2,188.5L144.4,191.6L143.8,194.6L143.2,197.5L142.7,200.4L142.2,203.2L141.7,206.0L141.2,208.8L140.7,211.5L140.2,214.2L139.7,216.9L139.2,219.6L138.6,222.3L138.1,225.0L137.6,227.6L137.1,230.3L136.5,233.0L136.0,235.7L135.5,238.5L135.0,241.2L134.4,243.9L133.9,246.6L133.4,249.3L132.8,252.1L132.3,254.8L131.8,257.5L131.3,260.3L130.8,263.0L130.3,265.8L129.8,268.5L129.4,271.3L128.9,274.0L128.4,276.8L128.0,279.5L127.6,282.3L127.2,285.1L126.8,287.8L126.4,290.6L126.0,293.4L125.7,296.2L125.3,298.9L125.0,301.7L124.7,304.5L124.4,307.3L124.1,310.0L123.8,312.8L123.6,315.6L123.4,318.4L123.1,321.1L122.9,323.9L122.7,326.7L122.5,329.5L122.3,332.2L122.1,335.0L122.0,337.8L121.8,340.6L121.6,343.3L121.5,346.1L121.3,348.9L121.2,351.7L121.1,354.4L121.0,357.2L120.9,360.0L120.7,362.8L120.6,365.6L120.5,368.3L120.5,371.1L120.4,373.9L120.3,376.7L120.2,379.5" fill="none" stroke="url(#lsf)" stroke-width="8" stroke-linecap="round" filter="url(#b2)"/>
<path d="M266.0,148.0L267.0,160.0L268.0,170.0L271.3,179.8L273.3,181.9L275.2,184.2L277.0,186.6L278.6,189.1L280.1,191.6L281.4,194.2L282.7,196.8L283.8,199.4L284.8,202.0L285.7,204.7L286.6,207.4L287.4,210.1L288.1,212.8L288.8,215.5L289.4,218.2L290.0,220.9L290.6,223.7L291.2,226.4L291.8,229.1L292.3,231.8L292.8,234.6L293.4,237.3L293.9,240.0L294.4,242.8L294.8,245.5L295.3,248.3L295.8,251.0L296.2,253.7L296.7,256.5L297.1,259.2L297.5,262.0L297.9,264.7L298.3,267.5L298.6,270.2L299.0,273.0L299.4,275.7L299.7,278.5L300.0,281.2L300.3,284.0L300.6,286.8L300.9,289.5L301.2,292.3L301.5,295.0L301.7,297.8" fill="none" stroke="url(#rsf)" stroke-width="16" stroke-linecap="round" opacity="0.45" filter="url(#b6)"/>
<ellipse cx="214" cy="95" rx="40" ry="15" fill="#888" opacity="0.25" filter="url(#b6)"/>
<path d="M214.5,72.8L217.9,72.8L221.2,73.2L224.5,74.0L227.8,75.0L231.0,76.3L234.2,77.9L237.3,79.7L240.3,81.6L243.3,83.8L246.2,86.1L249.0,88.4L251.8,90.9L254.4,93.4L257.0,96.0L259.5,98.6L261.9,101.2L264.2,104.0L266.4,106.7L268.5,109.5L270.6,112.4L272.6,115.2L274.5,118.2L276.4,121.1L278.1,124.1L279.9,127.2L281.5,130.3L283.1,133.4L284.7,136.5L286.2,139.7L287.6,142.9L289.0,146.1L290.3,149.4L291.6,152.7L292.9,156.0L294.2,159.3L295.4,162.6L296.6,165.9L297.8,169.2L299.0,172.6L300.2,175.9L301.4,179.2L302.5,182.6L303.7,185.9L304.8,189.3L306.0,192.6L307.1,195.9L308.2,199.3L309.3,202.6L310.4,206.0L311.4,209.4L312.5,212.7L313.5,216.1L314.4,219.5L315.4,222.9L316.3,226.3L317.2,229.7L318.1,233.1L318.9,236.5L319.7,239.9L320.4,243.4L321.2,246.8L321.9,250.2L322.6,253.7L323.2,257.2L323.8,260.6L324.5,264.1L325.0,267.6L325.6,271.1L326.1,274.6L326.7,278.0L327.2,281.5L327.7,285.0L328.1,288.5L328.6,292.0L329.0,295.5L329.5,299.1L329.9,302.6L330.3,306.1L330.7,309.6L331.1,313.1L331.5,316.6L331.9,320.1L332.3,323.6L332.7,327.1L333.1,330.6L333.4,334.1L333.8,337.6L334.1,341.1L334.4,344.6L334.7,348.1L335.1,351.6L335.3,355.2L335.6,358.7L335.9,362.2L336.1,365.7L336.4,369.2L336.6,372.7L336.8,376.2L337.0,379.7L337.1,383.2L337.3,386.8L337.4,390.3L337.5,393.8L337.6,397.3L337.7,400.9L337.7,404.4L337.7,407.9L337.7,411.4L337.7,415.0L337.7,418.5L337.6,422.0L337.5,425.6L337.4,429.1L337.3,432.6L337.2,436.1L337.0,439.7L336.8,443.2L336.6,446.7L336.4,450.2L336.1,453.8L335.8,457.3L335.5,460.8L335.2,464.3L334.8,467.8L334.5,471.3L334.1,474.8L333.7,478.4L333.2,481.9L332.8,485.4L332.3,488.8L331.7,492.3L331.2,495.8L330.7,499.3L330.1,502.8L329.5,506.2L328.8,509.7L328.2,513.2L327.5,516.6L326.8,520.1L326.0,523.5L325.3,527.0L324.5,530.4L323.7,533.8L322.8,537.2L322.0,540.6L321.1,544.1L320.2,547.4L319.2,550.8L318.3,554.2L317.3,557.6L316.3,561.0L315.2,564.3L314.2,567.7L313.1,571.0L311.9,574.3L310.8,577.7L309.6,581.0L308.4,584.3L307.2,587.6L306.0,590.9L304.7,594.2L303.4,597.4L302.1,600.7L300.7,604.0L299.4,607.2L298.0,610.5L296.5,613.7L295.1,616.9L293.6,620.1L292.1,623.3L290.6,626.5L289.1,629.7L287.5,632.9L285.9,636.1L284.3,639.2L282.6,642.4L280.9,645.5L279.2,648.5L277.4,651.6L275.5,654.5L273.5,657.4L271.4,660.3L269.2,663.0L266.9,665.7L264.6,668.2L262.0,670.7L259.4,673.0L256.6,675.3L253.6,677.4L250.5,679.4L247.3,681.2L244.0,682.8L240.7,684.3L237.2,685.6L233.7,686.7L230.2,687.6L226.7,688.2L223.1,688.7L219.6,688.8L216.2,688.8L212.8,688.4L209.4,687.8L206.1,687.0L202.9,686.0L199.7,684.8L196.5,683.3L193.4,681.7L190.4,680.0L187.5,678.0L184.6,676.0L181.7,673.8L179.0,671.4L176.3,669.0L173.6,666.5L171.0,663.9L168.5,661.2L166.1,658.5L163.8,655.7L161.5,652.9L159.2,650.1L157.1,647.2L155.0,644.4L153.0,641.5L151.0,638.6L149.1,635.6L147.2,632.6L145.4,629.7L143.6,626.6L141.9,623.6L140.2,620.6L138.5,617.5L136.9,614.4L135.3,611.3L133.7,608.2L132.1,605.1L130.6,601.9L129.1,598.7L127.6,595.5L126.2,592.3L124.7,589.1L123.3,585.9L121.9,582.6L120.6,579.4L119.3,576.1L118.0,572.8L116.7,569.5L115.5,566.2L114.3,562.9L113.1,559.6L111.9,556.2L110.8,552.9L109.7,549.5L108.7,546.1L107.7,542.7L106.7,539.4L105.7,536.0L104.8,532.5L103.9,529.1L103.0,525.7L102.2,522.3L101.4,518.8L100.6,515.4L99.9,512.0L99.2,508.5L98.5,505.1L97.9,501.6L97.3,498.1L96.7,494.7L96.2,491.2L95.7,487.7L95.2,484.2L94.7,480.7L94.3,477.2L93.9,473.7L93.5,470.2L93.2,466.7L92.9,463.2L92.6,459.7L92.3,456.2L92.1,452.7L91.9,449.2L91.7,445.7L91.5,442.2L91.4,438.6L91.3,435.1L91.2,431.6L91.1,428.1L91.0,424.5L91.0,421.0L91.0,417.5L91.0,413.9L91.0,410.4L91.0,406.9L91.1,403.3L91.2,399.8L91.3,396.3L91.4,392.7L91.5,389.2L91.6,385.7L91.8,382.1L91.9,378.6L92.1,375.1L92.3,371.5L92.5,368.0L92.7,364.5L92.9,361.0L93.1,357.4L93.4,353.9L93.6,350.4L93.9,346.9L94.2,343.4L94.5,339.9L94.8,336.3L95.1,332.8L95.4,329.3L95.7,325.8L96.1,322.3L96.5,318.8L96.8,315.3L97.2,311.8L97.7,308.3L98.1,304.9L98.6,301.4L99.0,297.9L99.5,294.4L100.0,290.9L100.6,287.5L101.1,284.0L101.7,280.5L102.3,277.1L102.9,273.6L103.6,270.1L104.3,266.7L105.0,263.2L105.7,259.8L106.4,256.3L107.1,252.9L107.9,249.4L108.6,246.0L109.4,242.5L110.1,239.1L110.9,235.6L111.6,232.2L112.3,228.7L113.1,225.2L113.8,221.7L114.5,218.3L115.2,214.8L116.0,211.3L116.7,207.8L117.5,204.4L118.3,200.9L119.1,197.5L119.9,194.0L120.8,190.6L121.7,187.2L122.6,183.8L123.6,180.5L124.6,177.1L125.7,173.8L126.8,170.5L127.9,167.2L129.1,163.9L130.4,160.6L131.7,157.4L133.0,154.2L134.4,151.0L135.8,147.8L137.3,144.7L138.8,141.5L140.4,138.4L142.1,135.3L143.8,132.3L145.6,129.2L147.4,126.2L149.3,123.2L151.3,120.3L153.3,117.3L155.4,114.4L157.5,111.5L159.8,108.7L162.1,105.9L164.4,103.1L166.9,100.4L169.4,97.8L171.9,95.2L174.6,92.7L177.3,90.3L180.0,88.1L182.9,85.9L185.8,83.8L188.7,81.9L191.8,80.2L194.8,78.5L198.0,77.1L201.2,75.8L204.5,74.7L207.8,73.8L211.2,73.1Z" fill="none" stroke="#fff" stroke-width="10" opacity="0.15" filter="url(#b3)" mask="url(#maskTop)"/>
<ellipse cx="214" cy="168" rx="42" ry="7" fill="#fff" opacity="0.3" filter="url(#b6)"/>
<ellipse cx="150" cy="165" rx="14" ry="38" fill="#fff" opacity="0.45" filter="url(#b6)" transform="rotate(15 150 165)"/>
<ellipse cx="277" cy="170" rx="12" ry="30" fill="#fff" opacity="0.55" filter="url(#b6)" transform="rotate(-20 277 170)"/>
</g>
<path d="M214.7,76.0L217.7,76.0L220.7,76.4L223.7,77.1L226.7,78.0L229.7,79.2L232.7,80.7L235.6,82.4L238.5,84.3L241.4,86.3L244.2,88.5L246.9,90.9L249.6,93.2L252.2,95.7L254.7,98.2L257.1,100.7L259.4,103.3L261.7,106.0L263.9,108.7L266.0,111.4L268.0,114.2L269.9,117.0L271.8,119.9L273.6,122.8L275.4,125.7L277.1,128.7L278.7,131.8L280.3,134.8L281.8,137.9L283.2,141.0L284.7,144.2L286.0,147.4L287.4,150.6L288.7,153.8L289.9,157.1L291.2,160.4L292.4,163.7L293.6,167.0L294.8,170.3L296.0,173.6L297.2,177.0L298.3,180.3L299.5,183.6L300.7,187.0L301.8,190.3L302.9,193.6L304.1,197.0L305.2,200.3L306.3,203.6L307.3,207.0L308.4,210.3L309.4,213.7L310.4,217.0L311.4,220.4L312.3,223.7L313.2,227.1L314.1,230.5L315.0,233.8L315.8,237.2L316.6,240.6L317.3,244.0L318.0,247.4L318.7,250.9L319.4,254.3L320.1,257.7L320.7,261.2L321.3,264.6L321.9,268.1L322.4,271.6L323.0,275.0L323.5,278.5L324.0,282.0L324.5,285.5L325.0,289.0L325.4,292.5L325.9,296.0L326.3,299.4L326.7,302.9L327.2,306.4L327.6,309.9L328.0,313.4L328.4,316.9L328.7,320.5L329.1,323.9L329.5,327.4L329.9,330.9L330.2,334.4L330.6,337.9L330.9,341.4L331.2,344.9L331.6,348.4L331.9,351.9L332.2,355.4L332.4,358.9L332.7,362.4L332.9,365.9L333.2,369.4L333.4,372.9L333.6,376.4L333.8,379.9L333.9,383.4L334.1,386.9L334.2,390.4L334.3,393.9L334.4,397.4L334.5,400.9L334.5,404.4L334.5,407.9L334.5,411.4L334.5,414.9L334.5,418.4L334.4,422.0L334.3,425.5L334.2,429.0L334.1,432.5L334.0,436.0L333.8,439.5L333.6,443.0L333.4,446.5L333.2,450.0L332.9,453.5L332.6,457.0L332.3,460.5L332.0,464.0L331.7,467.5L331.3,471.0L330.9,474.5L330.5,478.0L330.0,481.4L329.6,484.9L329.1,488.4L328.6,491.9L328.1,495.3L327.5,498.8L326.9,502.2L326.3,505.7L325.7,509.1L325.0,512.6L324.3,516.0L323.6,519.4L322.9,522.8L322.2,526.3L321.4,529.7L320.6,533.1L319.7,536.5L318.9,539.9L318.0,543.2L317.1,546.6L316.2,550.0L315.2,553.3L314.2,556.7L313.2,560.0L312.2,563.4L311.1,566.7L310.0,570.0L308.9,573.3L307.8,576.6L306.6,579.9L305.4,583.2L304.2,586.5L303.0,589.7L301.7,593.0L300.4,596.3L299.1,599.5L297.8,602.7L296.4,606.0L295.0,609.2L293.6,612.4L292.2,615.6L290.7,618.8L289.2,622.0L287.7,625.2L286.2,628.3L284.6,631.5L283.1,634.6L281.5,637.8L279.8,640.9L278.2,643.9L276.4,646.9L274.6,649.9L272.8,652.8L270.9,655.6L268.9,658.3L266.8,661.0L264.6,663.5L262.3,666.0L259.9,668.4L257.3,670.6L254.6,672.7L251.8,674.7L248.9,676.6L245.8,678.4L242.7,679.9L239.5,681.3L236.2,682.6L232.8,683.6L229.5,684.5L226.2,685.1L222.9,685.5L219.6,685.6L216.4,685.6L213.2,685.2L210.1,684.7L207.0,683.9L203.9,683.0L200.9,681.8L197.9,680.5L195.0,678.9L192.1,677.2L189.3,675.4L186.5,673.4L183.7,671.3L181.1,669.0L178.4,666.7L175.9,664.2L173.4,661.7L170.9,659.1L168.5,656.4L166.2,653.7L164.0,650.9L161.8,648.1L159.7,645.3L157.6,642.5L155.6,639.7L153.7,636.8L151.8,633.9L150.0,631.0L148.2,628.0L146.4,625.0L144.7,622.0L143.0,619.0L141.4,616.0L139.7,612.9L138.1,609.9L136.6,606.8L135.0,603.6L133.5,600.5L132.0,597.4L130.5,594.2L129.1,591.0L127.7,587.8L126.3,584.6L124.9,581.4L123.6,578.2L122.2,574.9L121.0,571.7L119.7,568.4L118.5,565.1L117.3,561.8L116.1,558.5L115.0,555.2L113.9,551.9L112.8,548.5L111.7,545.2L110.7,541.8L109.7,538.5L108.8,535.1L107.9,531.7L107.0,528.3L106.1,524.9L105.3,521.5L104.5,518.1L103.7,514.7L103.0,511.3L102.3,507.9L101.7,504.5L101.0,501.0L100.4,497.6L99.9,494.1L99.3,490.7L98.8,487.2L98.4,483.8L97.9,480.3L97.5,476.9L97.1,473.4L96.7,469.9L96.4,466.4L96.1,463.0L95.8,459.5L95.5,456.0L95.3,452.5L95.1,449.0L94.9,445.5L94.7,442.0L94.6,438.5L94.5,435.0L94.4,431.5L94.3,428.0L94.2,424.5L94.2,421.0L94.2,417.5L94.2,413.9L94.2,410.4L94.2,406.9L94.3,403.4L94.4,399.9L94.5,396.4L94.6,392.8L94.7,389.3L94.8,385.8L95.0,382.3L95.1,378.8L95.3,375.2L95.5,371.7L95.7,368.2L95.9,364.7L96.1,361.2L96.3,357.7L96.6,354.1L96.8,350.6L97.1,347.1L97.4,343.6L97.6,340.1L97.9,336.6L98.3,333.1L98.6,329.6L98.9,326.1L99.3,322.7L99.6,319.2L100.0,315.7L100.4,312.2L100.8,308.7L101.3,305.3L101.7,301.8L102.2,298.3L102.7,294.9L103.2,291.4L103.7,288.0L104.3,284.5L104.9,281.1L105.5,277.6L106.1,274.2L106.7,270.7L107.4,267.3L108.1,263.9L108.8,260.4L109.5,257.0L110.2,253.6L111.0,250.1L111.7,246.7L112.5,243.2L113.2,239.8L114.0,236.3L114.7,232.8L115.5,229.3L116.2,225.9L116.9,222.4L117.6,218.9L118.4,215.4L119.1,212.0L119.8,208.5L120.6,205.1L121.4,201.6L122.2,198.2L123.0,194.8L123.9,191.4L124.8,188.1L125.7,184.7L126.7,181.4L127.7,178.1L128.7,174.8L129.8,171.5L131.0,168.3L132.1,165.0L133.4,161.8L134.6,158.6L135.9,155.4L137.3,152.3L138.7,149.2L140.2,146.1L141.7,143.0L143.3,139.9L144.9,136.9L146.6,133.9L148.3,130.9L150.1,127.9L152.0,125.0L153.9,122.1L155.9,119.2L158.0,116.3L160.1,113.5L162.3,110.7L164.5,107.9L166.8,105.2L169.2,102.6L171.7,100.0L174.2,97.5L176.7,95.1L179.4,92.8L182.0,90.6L184.8,88.5L187.6,86.5L190.4,84.7L193.3,83.0L196.3,81.4L199.3,80.0L202.3,78.8L205.4,77.7L208.5,76.9L211.6,76.3Z" fill="none" stroke="#6a6a6a" stroke-width="1.2" opacity="0.35" filter="url(#b05)" mask="url(#maskTop)" clip-path="url(#clipO)"/>
<path d="M214.5,72.8L217.9,72.8L221.2,73.2L224.5,74.0L227.8,75.0L231.0,76.3L234.2,77.9L237.3,79.7L240.3,81.6L243.3,83.8L246.2,86.1L249.0,88.4L251.8,90.9L254.4,93.4L257.0,96.0L259.5,98.6L261.9,101.2L264.2,104.0L266.4,106.7L268.5,109.5L270.6,112.4L272.6,115.2L274.5,118.2L276.4,121.1L278.1,124.1L279.9,127.2L281.5,130.3L283.1,133.4L284.7,136.5L286.2,139.7L287.6,142.9L289.0,146.1L290.3,149.4L291.6,152.7L292.9,156.0L294.2,159.3L295.4,162.6L296.6,165.9L297.8,169.2L299.0,172.6L300.2,175.9L301.4,179.2L302.5,182.6L303.7,185.9L304.8,189.3L306.0,192.6L307.1,195.9L308.2,199.3L309.3,202.6L310.4,206.0L311.4,209.4L312.5,212.7L313.5,216.1L314.4,219.5L315.4,222.9L316.3,226.3L317.2,229.7L318.1,233.1L318.9,236.5L319.7,239.9L320.4,243.4L321.2,246.8L321.9,250.2L322.6,253.7L323.2,257.2L323.8,260.6L324.5,264.1L325.0,267.6L325.6,271.1L326.1,274.6L326.7,278.0L327.2,281.5L327.7,285.0L328.1,288.5L328.6,292.0L329.0,295.5L329.5,299.1L329.9,302.6L330.3,306.1L330.7,309.6L331.1,313.1L331.5,316.6L331.9,320.1L332.3,323.6L332.7,327.1L333.1,330.6L333.4,334.1L333.8,337.6L334.1,341.1L334.4,344.6L334.7,348.1L335.1,351.6L335.3,355.2L335.6,358.7L335.9,362.2L336.1,365.7L336.4,369.2L336.6,372.7L336.8,376.2L337.0,379.7L337.1,383.2L337.3,386.8L337.4,390.3L337.5,393.8L337.6,397.3L337.7,400.9L337.7,404.4L337.7,407.9L337.7,411.4L337.7,415.0L337.7,418.5L337.6,422.0L337.5,425.6L337.4,429.1L337.3,432.6L337.2,436.1L337.0,439.7L336.8,443.2L336.6,446.7L336.4,450.2L336.1,453.8L335.8,457.3L335.5,460.8L335.2,464.3L334.8,467.8L334.5,471.3L334.1,474.8L333.7,478.4L333.2,481.9L332.8,485.4L332.3,488.8L331.7,492.3L331.2,495.8L330.7,499.3L330.1,502.8L329.5,506.2L328.8,509.7L328.2,513.2L327.5,516.6L326.8,520.1L326.0,523.5L325.3,527.0L324.5,530.4L323.7,533.8L322.8,537.2L322.0,540.6L321.1,544.1L320.2,547.4L319.2,550.8L318.3,554.2L317.3,557.6L316.3,561.0L315.2,564.3L314.2,567.7L313.1,571.0L311.9,574.3L310.8,577.7L309.6,581.0L308.4,584.3L307.2,587.6L306.0,590.9L304.7,594.2L303.4,597.4L302.1,600.7L300.7,604.0L299.4,607.2L298.0,610.5L296.5,613.7L295.1,616.9L293.6,620.1L292.1,623.3L290.6,626.5L289.1,629.7L287.5,632.9L285.9,636.1L284.3,639.2L282.6,642.4L280.9,645.5L279.2,648.5L277.4,651.6L275.5,654.5L273.5,657.4L271.4,660.3L269.2,663.0L266.9,665.7L264.6,668.2L262.0,670.7L259.4,673.0L256.6,675.3L253.6,677.4L250.5,679.4L247.3,681.2L244.0,682.8L240.7,684.3L237.2,685.6L233.7,686.7L230.2,687.6L226.7,688.2L223.1,688.7L219.6,688.8L216.2,688.8L212.8,688.4L209.4,687.8L206.1,687.0L202.9,686.0L199.7,684.8L196.5,683.3L193.4,681.7L190.4,680.0L187.5,678.0L184.6,676.0L181.7,673.8L179.0,671.4L176.3,669.0L173.6,666.5L171.0,663.9L168.5,661.2L166.1,658.5L163.8,655.7L161.5,652.9L159.2,650.1L157.1,647.2L155.0,644.4L153.0,641.5L151.0,638.6L149.1,635.6L147.2,632.6L145.4,629.7L143.6,626.6L141.9,623.6L140.2,620.6L138.5,617.5L136.9,614.4L135.3,611.3L133.7,608.2L132.1,605.1L130.6,601.9L129.1,598.7L127.6,595.5L126.2,592.3L124.7,589.1L123.3,585.9L121.9,582.6L120.6,579.4L119.3,576.1L118.0,572.8L116.7,569.5L115.5,566.2L114.3,562.9L113.1,559.6L111.9,556.2L110.8,552.9L109.7,549.5L108.7,546.1L107.7,542.7L106.7,539.4L105.7,536.0L104.8,532.5L103.9,529.1L103.0,525.7L102.2,522.3L101.4,518.8L100.6,515.4L99.9,512.0L99.2,508.5L98.5,505.1L97.9,501.6L97.3,498.1L96.7,494.7L96.2,491.2L95.7,487.7L95.2,484.2L94.7,480.7L94.3,477.2L93.9,473.7L93.5,470.2L93.2,466.7L92.9,463.2L92.6,459.7L92.3,456.2L92.1,452.7L91.9,449.2L91.7,445.7L91.5,442.2L91.4,438.6L91.3,435.1L91.2,431.6L91.1,428.1L91.0,424.5L91.0,421.0L91.0,417.5L91.0,413.9L91.0,410.4L91.0,406.9L91.1,403.3L91.2,399.8L91.3,396.3L91.4,392.7L91.5,389.2L91.6,385.7L91.8,382.1L91.9,378.6L92.1,375.1L92.3,371.5L92.5,368.0L92.7,364.5L92.9,361.0L93.1,357.4L93.4,353.9L93.6,350.4L93.9,346.9L94.2,343.4L94.5,339.9L94.8,336.3L95.1,332.8L95.4,329.3L95.7,325.8L96.1,322.3L96.5,318.8L96.8,315.3L97.2,311.8L97.7,308.3L98.1,304.9L98.6,301.4L99.0,297.9L99.5,294.4L100.0,290.9L100.6,287.5L101.1,284.0L101.7,280.5L102.3,277.1L102.9,273.6L103.6,270.1L104.3,266.7L105.0,263.2L105.7,259.8L106.4,256.3L107.1,252.9L107.9,249.4L108.6,246.0L109.4,242.5L110.1,239.1L110.9,235.6L111.6,232.2L112.3,228.7L113.1,225.2L113.8,221.7L114.5,218.3L115.2,214.8L116.0,211.3L116.7,207.8L117.5,204.4L118.3,200.9L119.1,197.5L119.9,194.0L120.8,190.6L121.7,187.2L122.6,183.8L123.6,180.5L124.6,177.1L125.7,173.8L126.8,170.5L127.9,167.2L129.1,163.9L130.4,160.6L131.7,157.4L133.0,154.2L134.4,151.0L135.8,147.8L137.3,144.7L138.8,141.5L140.4,138.4L142.1,135.3L143.8,132.3L145.6,129.2L147.4,126.2L149.3,123.2L151.3,120.3L153.3,117.3L155.4,114.4L157.5,111.5L159.8,108.7L162.1,105.9L164.4,103.1L166.9,100.4L169.4,97.8L171.9,95.2L174.6,92.7L177.3,90.3L180.0,88.1L182.9,85.9L185.8,83.8L188.7,81.9L191.8,80.2L194.8,78.5L198.0,77.1L201.2,75.8L204.5,74.7L207.8,73.8L211.2,73.1Z" fill="none" stroke="#777" stroke-width="0.9" opacity="0.45"/>
<path d="M154.6,180.0L156.4,178.0L158.5,176.3L160.7,174.9L163.2,173.8L165.7,172.9L168.4,172.4L171.1,172.3L173.8,172.4L176.5,172.9L179.2,173.6L181.9,174.5L184.5,175.5L187.1,176.7L189.7,178.0L192.3,179.3L194.9,180.6L197.5,181.8L200.0,183.0L202.6,184.0L205.2,184.8L207.8,185.4L210.5,185.8L213.1,185.9L215.7,185.7L218.3,185.2L220.9,184.5L223.5,183.6L226.1,182.5L228.7,181.4L231.4,180.2L234.0,179.1L236.7,177.9L239.4,176.9L242.1,175.9L244.8,175.2L247.6,174.6L250.3,174.3L253.0,174.2L255.7,174.3L258.3,174.8L260.8,175.5L263.2,176.5L265.5,177.8L267.7,179.5L269.7,181.3L271.7,183.4L273.5,185.6L275.2,187.9L276.7,190.3L278.2,192.7L279.5,195.2L280.7,197.7L281.7,200.2L282.7,202.8L283.7,205.4L284.5,208.0L285.3,210.7L286.0,213.3L286.7,216.0L287.3,218.7L287.9,221.4L288.5,224.1L289.0,226.8L289.6,229.6L290.1,232.3L290.7,235.0L291.2,237.7L291.7,240.4L292.2,243.2L292.7,245.9L293.1,248.6L293.6,251.4L294.1,254.1L294.5,256.8L294.9,259.6L295.3,262.3L295.7,265.0L296.1,267.8L296.5,270.5L296.8,273.3L297.2,276.0L297.5,278.7L297.8,281.5L298.1,284.2L298.4,287.0L298.7,289.7L299.0,292.5L299.3,295.3L299.5,298.0L299.8,300.8L300.0,303.5L300.2,306.3L300.4,309.0L300.6,311.8L300.8,314.6L301.0,317.3L301.2,320.1L301.3,322.8L301.5,325.6L301.6,328.4L301.8,331.1L301.9,333.9L302.0,336.7L302.1,339.4L302.2,342.2L302.3,345.0L302.4,347.7L302.5,350.5L302.6,353.3L302.7,356.0L302.7,358.8L302.8,361.6L302.8,364.3L302.9,367.1L302.9,369.9L303.0,372.7L303.0,375.4L303.1,378.2L303.1,381.0L303.1,383.7L303.1,386.5L303.2,389.3L303.2,392.1L303.2,394.8L303.2,397.6L303.2,400.4L303.3,403.1L303.3,405.9L303.3,408.7L303.3,411.5L303.3,414.2L303.3,417.0L303.3,419.8L303.3,422.5L303.3,425.3L303.3,428.1L303.3,430.8L303.2,433.6L303.2,436.4L303.1,439.1L303.0,441.9L302.9,444.7L302.8,447.4L302.7,450.2L302.5,452.9L302.4,455.7L302.2,458.4L301.9,461.2L301.7,464.0L301.4,466.7L301.1,469.5L300.8,472.2L300.4,475.0L300.0,477.7L299.6,480.4L299.1,483.2L298.7,485.9L298.2,488.7L297.8,491.4L297.3,494.2L296.9,496.9L296.5,499.7L296.2,502.4L295.9,505.2L295.6,507.9L295.2,510.6L294.9,513.4L294.6,516.1L294.3,518.9L293.9,521.6L293.5,524.4L293.1,527.1L292.6,529.8L292.1,532.5L291.6,535.3L291.0,538.0L290.4,540.7L289.8,543.4L289.1,546.1L288.4,548.8L287.7,551.4L287.0,554.1L286.2,556.8L285.4,559.4L284.5,562.0L283.6,564.6L282.7,567.3L281.8,569.9L280.8,572.5L279.8,575.0L278.8,577.6L277.8,580.2L276.7,582.7L275.6,585.3L274.5,587.8L273.3,590.3L272.1,592.8L270.8,595.3L269.4,597.7L268.0,600.1L266.5,602.4L265.0,604.7L263.3,607.0L261.6,609.1L259.8,611.3L257.8,613.3L255.8,615.2L253.7,617.0L251.6,618.7L249.3,620.2L246.9,621.6L244.5,622.8L242.0,623.9L239.4,624.9L236.8,625.7L234.1,626.4L231.4,627.0L228.7,627.4L225.9,627.8L223.1,628.1L220.2,628.3L217.4,628.4L214.6,628.4L211.7,628.3L208.9,628.2L206.1,628.0L203.3,627.7L200.5,627.2L197.8,626.7L195.1,626.0L192.5,625.3L189.9,624.3L187.3,623.3L184.9,622.1L182.5,620.7L180.2,619.2L178.0,617.6L175.8,615.8L173.8,613.9L171.8,611.9L170.0,609.8L168.2,607.7L166.5,605.5L165.0,603.2L163.4,600.9L162.0,598.5L160.7,596.1L159.4,593.7L158.1,591.2L157.0,588.7L155.8,586.2L154.7,583.6L153.7,581.1L152.6,578.5L151.6,575.9L150.6,573.3L149.6,570.7L148.7,568.1L147.8,565.5L146.9,562.9L146.0,560.2L145.2,557.6L144.3,555.0L143.5,552.3L142.7,549.7L142.0,547.0L141.2,544.3L140.5,541.7L139.8,539.0L139.1,536.3L138.4,533.6L137.8,530.9L137.2,528.2L136.6,525.5L136.0,522.8L135.4,520.1L134.9,517.4L134.3,514.7L133.8,512.0L133.3,509.2L132.8,506.5L132.4,503.8L131.9,501.1L131.5,498.3L131.1,495.6L130.7,492.9L130.3,490.1L129.9,487.4L129.6,484.6L129.3,481.9L128.9,479.1L128.6,476.4L128.3,473.6L128.1,470.9L127.8,468.1L127.6,465.4L127.3,462.6L127.1,459.9L126.9,457.1L126.7,454.3L126.5,451.6L126.3,448.8L126.2,446.0L126.0,443.3L125.9,440.5L125.8,437.7L125.6,435.0L125.5,432.2L125.4,429.4L125.4,426.7L125.3,423.9L125.2,421.1L125.2,418.3L125.1,415.6L125.1,412.8L125.0,410.0L125.0,407.3L125.0,404.5L125.0,401.7L125.0,398.9L125.0,396.2L125.0,393.4L125.1,390.6L125.1,387.9L125.1,385.1L125.2,382.3L125.2,379.6L125.3,376.8L125.4,374.0L125.5,371.3L125.5,368.5L125.6,365.7L125.7,363.0L125.8,360.2L126.0,357.4L126.1,354.7L126.2,351.9L126.3,349.1L126.5,346.4L126.6,343.6L126.8,340.9L126.9,338.1L127.1,335.3L127.3,332.6L127.5,329.8L127.7,327.1L127.9,324.3L128.1,321.5L128.3,318.8L128.6,316.0L128.8,313.3L129.1,310.5L129.4,307.8L129.7,305.0L130.0,302.3L130.3,299.5L130.6,296.8L131.0,294.0L131.3,291.3L131.7,288.5L132.1,285.8L132.5,283.0L132.9,280.3L133.4,277.6L133.8,274.8L134.3,272.1L134.8,269.4L135.2,266.6L135.7,263.9L136.2,261.2L136.7,258.4L137.2,255.7L137.8,253.0L138.3,250.3L138.8,247.6L139.3,244.8L139.9,242.1L140.4,239.4L140.9,236.7L141.5,234.0L142.0,231.3L142.5,228.6L143.0,225.9L143.5,223.2L144.1,220.5L144.6,217.8L145.1,215.1L145.6,212.4L146.1,209.7L146.6,206.9L147.1,204.1L147.6,201.3L148.1,198.4L148.7,195.6L149.3,192.7L150.0,189.9L150.8,187.2L151.9,184.6L153.1,182.2Z" fill="#707070"/>
<path d="M266.4,176.5L268.7,178.2L270.9,180.2L272.9,182.3L274.8,184.6L276.5,187.0L278.1,189.4L279.6,191.9L280.9,194.4L282.1,197.0L283.2,199.6L284.2,202.2L285.2,204.9L286.0,207.5L286.8,210.2L287.5,212.9L288.2,215.6L288.9,218.4L289.5,221.1L290.0,223.8L290.6,226.5L291.2,229.2L291.7,232.0L292.2,234.7L292.8,237.4L293.3,240.1L293.8,242.9L294.3,245.6L294.7,248.4L295.2,251.1L295.6,253.8L296.1,256.6L296.5,259.3L296.9,262.1L297.3,264.8L297.7,267.6L298.1,270.3L298.4,273.1L298.8,275.8L299.1,278.6L299.4,281.3L299.7,284.1L300.0,286.8L300.3,289.6L300.6,292.3L300.9,295.1L301.1,297.9" fill="none" stroke="url(#rsf2)" stroke-width="6.4" stroke-linecap="round" filter="url(#b05)"/>
<path d="M155.6,180.8L157.3,178.9L159.2,177.3L161.3,176.0L163.6,174.9L166.0,174.1L168.5,173.6L171.1,173.5L173.7,173.6L176.3,174.1L178.9,174.7L181.5,175.6L184.1,176.6L186.6,177.8L189.2,179.1L191.8,180.4L194.3,181.7L197.0,182.9L199.6,184.1L202.2,185.1L204.9,186.0L207.6,186.6L210.3,187.0L213.1,187.1L215.8,186.9L218.5,186.4L221.2,185.6L223.9,184.7L226.6,183.7L229.2,182.5L231.8,181.3L234.5,180.2L237.1,179.0L239.8,178.0L242.4,177.1L245.1,176.4L247.8,175.8L250.4,175.5L253.0,175.4L255.5,175.5L258.0,175.9L260.4,176.6L262.7,177.6L264.8,178.8L266.9,180.4L268.9,182.2L270.8,184.2L272.6,186.3L274.2,188.6L275.7,190.9L277.1,193.3L278.3,195.7L279.5,198.2L280.6,200.7L281.5,203.2L282.4,205.8L283.3,208.4L284.0,211.0L284.7,213.7L285.4,216.3L286.0,219.0L286.6,221.7L287.1,224.4L287.7,227.1L288.2,229.8L288.8,232.5L289.3,235.3L289.8,238.0L290.3,240.7L290.8,243.4L291.3,246.1L291.8,248.9L292.2,251.6L292.7,254.3L293.1,257.0L293.5,259.8L293.9,262.5L294.3,265.2L294.7,268.0L295.1,270.7L295.4,273.4L295.8,276.2L296.1,278.9L296.4,281.7L296.8,284.4L297.1,287.1L297.3,289.9L297.6,292.6L297.9,295.4L298.1,298.1L298.4,300.9L298.6,303.6L298.8,306.4L299.0,309.1L299.2,311.9L299.4,314.6L299.6,317.4L299.8,320.2L299.9,322.9L300.1,325.7L300.2,328.4L300.4,331.2L300.5,334.0L300.6,336.7L300.7,339.5L300.8,342.2L300.9,345.0L301.0,347.8L301.1,350.5L301.2,353.3L301.3,356.1L301.3,358.8L301.4,361.6L301.4,364.4L301.5,367.1L301.5,369.9L301.6,372.7L301.6,375.4L301.7,378.2L301.7,381.0L301.7,383.8L301.7,386.5L301.8,389.3L301.8,392.1L301.8,394.8L301.8,397.6L301.8,400.4L301.9,403.1L301.9,405.9L301.9,408.7L301.9,411.5L301.9,414.2L301.9,417.0L301.9,419.8L301.9,422.5L301.9,425.3L301.9,428.1L301.9,430.8L301.8,433.6L301.8,436.3L301.7,439.1L301.6,441.8L301.5,444.6L301.4,447.4L301.3,450.1L301.1,452.9L301.0,455.6L300.8,458.3L300.5,461.1L300.3,463.8L300.0,466.6L299.7,469.3L299.4,472.0L299.0,474.8L298.6,477.5L298.2,480.2L297.7,483.0L297.3,485.7L296.8,488.5L296.4,491.2L296.0,494.0L295.5,496.7L295.2,499.5L294.8,502.2L294.5,505.0L294.2,507.7L293.9,510.5L293.5,513.2L293.2,516.0L292.9,518.7L292.5,521.4L292.1,524.1L291.7,526.9L291.2,529.6L290.7,532.3L290.2,535.0L289.6,537.7L289.0,540.4L288.4,543.1L287.8,545.7L287.1,548.4L286.4,551.1L285.6,553.7L284.8,556.3L284.0,559.0L283.2,561.6L282.3,564.2L281.4,566.8L280.5,569.4L279.5,572.0L278.5,574.5L277.5,577.1L276.5,579.7L275.4,582.2L274.3,584.7L273.2,587.2L272.0,589.7L270.8,592.2L269.5,594.6L268.2,597.0L266.8,599.4L265.4,601.7L263.8,603.9L262.2,606.1L260.5,608.2L258.7,610.3L256.9,612.3L254.9,614.2L252.9,615.9L250.7,617.6L248.6,619.0L246.3,620.4L243.9,621.6L241.5,622.6L239.0,623.5L236.4,624.3L233.8,625.0L231.2,625.6L228.5,626.1L225.7,626.4L223.0,626.7L220.2,626.9L217.4,627.0L214.6,627.0L211.8,626.9L209.0,626.8L206.2,626.6L203.5,626.3L200.8,625.9L198.1,625.3L195.5,624.7L192.9,623.9L190.4,623.0L187.9,622.0L185.5,620.8L183.2,619.5L181.0,618.0L178.8,616.5L176.8,614.7L174.8,612.9L172.9,611.0L171.0,608.9L169.3,606.8L167.7,604.7L166.1,602.4L164.6,600.2L163.2,597.8L161.9,595.5L160.6,593.0L159.4,590.6L158.2,588.1L157.1,585.6L156.0,583.1L155.0,580.5L153.9,578.0L152.9,575.4L151.9,572.8L151.0,570.2L150.0,567.6L149.1,565.0L148.2,562.4L147.3,559.8L146.5,557.2L145.7,554.6L144.9,551.9L144.1,549.3L143.3,546.6L142.6,544.0L141.8,541.3L141.1,538.6L140.5,536.0L139.8,533.3L139.2,530.6L138.5,527.9L137.9,525.2L137.3,522.5L136.8,519.8L136.2,517.1L135.7,514.4L135.2,511.7L134.7,509.0L134.2,506.3L133.8,503.6L133.3,500.8L132.9,498.1L132.5,495.4L132.1,492.7L131.7,489.9L131.3,487.2L131.0,484.5L130.6,481.7L130.3,479.0L130.0,476.2L129.7,473.5L129.5,470.8L129.2,468.0L128.9,465.3L128.7,462.5L128.5,459.7L128.3,457.0L128.1,454.2L127.9,451.5L127.7,448.7L127.6,446.0L127.4,443.2L127.3,440.4L127.2,437.7L127.0,434.9L126.9,432.1L126.8,429.4L126.8,426.6L126.7,423.8L126.6,421.1L126.6,418.3L126.5,415.5L126.5,412.8L126.4,410.0L126.4,407.2L126.4,404.5L126.4,401.7L126.4,398.9L126.4,396.2L126.4,393.4L126.5,390.7L126.5,387.9L126.5,385.1L126.6,382.4L126.6,379.6L126.7,376.8L126.8,374.1L126.9,371.3L126.9,368.5L127.0,365.8L127.1,363.0L127.2,360.3L127.4,357.5L127.5,354.7L127.6,352.0L127.7,349.2L127.9,346.4L128.0,343.7L128.2,340.9L128.3,338.2L128.5,335.4L128.7,332.7L128.9,329.9L129.1,327.2L129.3,324.4L129.5,321.7L129.7,318.9L130.0,316.2L130.2,313.4L130.5,310.7L130.8,307.9L131.1,305.2L131.4,302.4L131.7,299.7L132.0,296.9L132.4,294.2L132.7,291.5L133.1,288.7L133.5,286.0L133.9,283.3L134.3,280.5L134.8,277.8L135.2,275.1L135.7,272.3L136.1,269.6L136.6,266.9L137.1,264.1L137.6,261.4L138.1,258.7L138.6,256.0L139.1,253.3L139.7,250.5L140.2,247.8L140.7,245.1L141.2,242.4L141.8,239.7L142.3,237.0L142.8,234.3L143.4,231.6L143.9,228.9L144.4,226.2L144.9,223.5L145.4,220.8L145.9,218.1L146.4,215.4L146.9,212.6L147.4,209.9L147.9,207.1L148.4,204.3L148.9,201.5L149.4,198.7L149.9,195.8L150.5,193.0L151.2,190.2L152.0,187.6L153.0,185.1L154.2,182.8Z" fill="#ffffff"/>
<path d="M157.5,182.3L158.9,180.7L160.6,179.3L162.5,178.1L164.5,177.1L166.6,176.4L168.8,176.0L171.1,175.9L173.4,176.0L175.8,176.4L178.2,177.0L180.7,177.8L183.1,178.8L185.6,180.0L188.1,181.2L190.7,182.5L193.3,183.8L196.0,185.1L198.7,186.3L201.4,187.4L204.3,188.3L207.2,189.0L210.1,189.4L213.1,189.5L216.1,189.3L219.1,188.7L221.9,187.9L224.7,187.0L227.5,185.9L230.2,184.7L232.8,183.5L235.4,182.4L238.0,181.3L240.6,180.2L243.1,179.4L245.7,178.7L248.1,178.2L250.6,177.9L253.0,177.8L255.3,177.9L257.5,178.3L259.6,178.9L261.6,179.7L263.5,180.8L265.4,182.3L267.2,183.9L269.0,185.8L270.6,187.8L272.1,190.0L273.5,192.3L274.7,194.6L275.9,197.0L276.9,199.4L277.8,201.8L278.7,204.3L279.5,206.8L280.2,209.3L280.8,211.9L281.4,214.5L282.0,217.1L282.5,219.8L283.0,222.5L283.4,225.2L283.9,227.9L284.3,230.6L284.8,233.3L285.4,236.0L285.9,238.7L286.4,241.4L286.9,244.1L287.4,246.8L287.8,249.5L288.3,252.2L288.7,254.9L289.1,257.7L289.6,260.4L290.0,263.1L290.4,265.8L290.7,268.5L291.1,271.2L291.5,273.9L291.8,276.7L292.2,279.4L292.5,282.1L292.8,284.8L293.1,287.6L293.4,290.3L293.6,293.0L293.9,295.8L294.2,298.5L294.4,301.2L294.6,304.0L294.8,306.7L295.0,309.4L295.2,312.2L295.4,314.9L295.6,317.7L295.8,320.4L295.9,323.1L296.1,325.9L296.2,328.6L296.4,331.4L296.5,334.1L296.6,336.9L296.7,339.6L296.8,342.4L296.9,345.1L297.0,347.9L297.1,350.7L297.2,353.4L297.3,356.2L297.3,358.9L297.4,361.7L297.4,364.5L297.5,367.2L297.5,370.0L297.6,372.7L297.6,375.5L297.7,378.3L297.7,381.0L297.7,383.8L297.7,386.6L297.8,389.3L297.8,392.1L297.8,394.9L297.8,397.6L297.8,400.4L297.9,403.2L297.9,405.9L297.9,408.7L297.9,411.5L297.9,414.2L297.9,417.0L297.9,419.8L297.9,422.5L297.9,425.3L297.9,428.0L297.9,430.8L297.8,433.5L297.8,436.3L297.7,439.0L297.6,441.7L297.5,444.4L297.4,447.2L297.3,449.9L297.1,452.6L297.0,455.3L296.8,458.0L296.6,460.7L296.3,463.4L296.0,466.1L295.7,468.8L295.4,471.5L295.0,474.2L294.6,476.9L294.2,479.6L293.8,482.3L293.3,485.1L292.9,487.8L292.4,490.6L292.0,493.3L291.6,496.1L291.2,498.9L290.8,501.7L290.5,504.5L290.2,507.3L289.9,510.0L289.6,512.8L289.3,515.5L288.9,518.2L288.6,520.9L288.2,523.5L287.7,526.2L287.3,528.9L286.8,531.5L286.3,534.2L285.7,536.9L285.1,539.5L284.5,542.1L283.9,544.8L283.2,547.4L282.5,550.0L281.8,552.6L281.0,555.2L280.2,557.8L279.4,560.3L278.5,562.9L277.6,565.5L276.7,568.0L275.8,570.5L274.8,573.1L273.8,575.6L272.8,578.1L271.7,580.6L270.7,583.1L269.6,585.6L268.4,588.0L267.2,590.4L266.0,592.7L264.7,595.0L263.4,597.3L262.0,599.5L260.6,601.6L259.0,603.7L257.4,605.7L255.8,607.6L254.0,609.5L252.2,611.2L250.3,612.8L248.4,614.3L246.4,615.7L244.4,616.9L242.2,617.9L240.0,618.9L237.7,619.8L235.3,620.5L232.9,621.1L230.4,621.7L227.9,622.1L225.3,622.4L222.6,622.7L220.0,622.9L217.3,623.0L214.6,623.0L211.9,622.9L209.2,622.8L206.6,622.6L204.0,622.3L201.4,621.9L199.0,621.4L196.5,620.8L194.1,620.1L191.8,619.3L189.6,618.4L187.4,617.3L185.3,616.1L183.3,614.8L181.3,613.3L179.4,611.7L177.6,610.0L175.8,608.2L174.1,606.3L172.5,604.3L170.9,602.3L169.4,600.2L168.0,598.0L166.7,595.8L165.4,593.5L164.2,591.2L163.0,588.9L161.9,586.4L160.8,584.0L159.7,581.5L158.7,579.0L157.6,576.5L156.6,574.0L155.7,571.4L154.7,568.9L153.8,566.3L152.9,563.7L152.0,561.1L151.1,558.6L150.3,556.0L149.5,553.4L148.7,550.8L147.9,548.1L147.2,545.5L146.4,542.9L145.7,540.3L145.0,537.6L144.3,535.0L143.7,532.3L143.1,529.7L142.4,527.0L141.8,524.4L141.3,521.7L140.7,519.0L140.2,516.3L139.6,513.7L139.1,511.0L138.6,508.3L138.2,505.6L137.7,502.9L137.3,500.2L136.8,497.5L136.4,494.8L136.0,492.1L135.7,489.4L135.3,486.7L135.0,484.0L134.6,481.3L134.3,478.5L134.0,475.8L133.7,473.1L133.4,470.4L133.2,467.6L132.9,464.9L132.7,462.2L132.5,459.4L132.3,456.7L132.1,454.0L131.9,451.2L131.7,448.5L131.6,445.7L131.4,443.0L131.3,440.2L131.2,437.5L131.0,434.8L130.9,432.0L130.8,429.3L130.8,426.5L130.7,423.7L130.6,421.0L130.6,418.2L130.5,415.5L130.5,412.7L130.4,410.0L130.4,407.2L130.4,404.5L130.4,401.7L130.4,399.0L130.4,396.2L130.4,393.5L130.5,390.7L130.5,387.9L130.5,385.2L130.6,382.4L130.6,379.7L130.7,376.9L130.8,374.2L130.9,371.4L130.9,368.7L131.0,365.9L131.1,363.2L131.2,360.4L131.4,357.7L131.5,354.9L131.6,352.2L131.7,349.4L131.9,346.7L132.0,343.9L132.2,341.2L132.3,338.4L132.5,335.7L132.7,332.9L132.9,330.2L133.1,327.4L133.3,324.7L133.5,322.0L133.7,319.2L134.0,316.5L134.2,313.8L134.5,311.1L134.7,308.3L135.0,305.6L135.3,302.9L135.6,300.2L136.0,297.4L136.3,294.7L136.7,292.0L137.1,289.3L137.4,286.6L137.9,283.9L138.3,281.1L138.7,278.4L139.2,275.7L139.6,273.0L140.1,270.3L140.6,267.6L141.0,264.9L141.5,262.1L142.0,259.4L142.6,256.7L143.1,254.0L143.6,251.3L144.1,248.6L144.6,245.9L145.2,243.2L145.7,240.5L146.2,237.7L146.8,235.0L147.3,232.3L147.8,229.6L148.2,226.9L148.6,224.2L149.0,221.5L149.4,218.7L149.8,216.0L150.2,213.2L150.6,210.5L151.0,207.7L151.4,204.9L151.8,202.0L152.2,199.2L152.6,196.3L153.1,193.6L153.6,190.9L154.3,188.4L155.1,186.1L156.2,184.1Z" fill="#8a2454"/>
<path d="M158.4,183.0L159.7,181.5L161.3,180.2L163.0,179.1L164.9,178.2L166.9,177.6L169.0,177.2L171.1,177.1L173.3,177.2L175.5,177.6L177.9,178.2L180.2,179.0L182.6,179.9L185.1,181.1L187.6,182.3L190.1,183.6L192.8,184.9L195.5,186.2L198.2,187.4L201.0,188.5L204.0,189.4L206.9,190.2L210.0,190.6L213.2,190.7L216.3,190.5L219.3,189.9L222.3,189.1L225.1,188.1L227.9,187.0L230.6,185.8L233.3,184.6L235.9,183.5L238.5,182.4L241.0,181.4L243.5,180.5L245.9,179.9L248.3,179.4L250.7,179.1L253.0,179.0L255.1,179.1L257.2,179.4L259.2,180.0L261.0,180.8L262.8,181.8L264.6,183.2L266.4,184.8L268.1,186.6L269.7,188.5L271.1,190.7L272.4,193.0L273.6,195.2L274.6,197.6L275.6,199.9L276.5,202.3L277.3,204.8L278.0,207.3L278.6,209.8L279.2,212.4L279.8,214.9L280.3,217.6L280.7,220.2L281.2,222.9L281.6,225.6L282.0,228.3L282.4,231.0L282.9,233.7L283.4,236.4L283.9,239.1L284.4,241.8L284.9,244.5L285.4,247.2L285.9,249.9L286.3,252.6L286.7,255.3L287.2,258.0L287.6,260.7L288.0,263.4L288.4,266.1L288.8,268.8L289.1,271.5L289.5,274.2L289.8,276.9L290.2,279.6L290.5,282.3L290.8,285.1L291.1,287.8L291.4,290.5L291.6,293.2L291.9,295.9L292.2,298.7L292.4,301.4L292.6,304.1L292.8,306.8L293.1,309.6L293.2,312.3L293.4,315.0L293.6,317.8L293.8,320.5L293.9,323.3L294.1,326.0L294.2,328.7L294.4,331.5L294.5,334.2L294.6,337.0L294.7,339.7L294.8,342.5L294.9,345.2L295.0,348.0L295.1,350.7L295.2,353.5L295.3,356.2L295.3,359.0L295.4,361.7L295.4,364.5L295.5,367.2L295.5,370.0L295.6,372.8L295.6,375.5L295.7,378.3L295.7,381.1L295.7,383.8L295.7,386.6L295.8,389.3L295.8,392.1L295.8,394.9L295.8,397.6L295.8,400.4L295.9,403.2L295.9,405.9L295.9,408.7L295.9,411.5L295.9,414.2L295.9,417.0L295.9,419.8L295.9,422.5L295.9,425.3L295.9,428.0L295.9,430.7L295.8,433.5L295.8,436.2L295.7,438.9L295.6,441.7L295.5,444.4L295.4,447.1L295.3,449.8L295.1,452.5L295.0,455.2L294.8,457.9L294.6,460.6L294.3,463.2L294.0,465.9L293.7,468.6L293.4,471.3L293.1,473.9L292.7,476.6L292.2,479.3L291.8,482.0L291.4,484.7L290.9,487.5L290.5,490.3L290.0,493.0L289.6,495.8L289.2,498.7L288.8,501.5L288.5,504.3L288.2,507.1L287.9,509.8L287.6,512.6L287.3,515.2L286.9,517.9L286.6,520.6L286.2,523.2L285.8,525.9L285.3,528.5L284.8,531.2L284.3,533.8L283.8,536.4L283.2,539.1L282.6,541.7L281.9,544.3L281.3,546.9L280.6,549.5L279.9,552.0L279.1,554.6L278.3,557.2L277.5,559.7L276.6,562.3L275.8,564.8L274.9,567.3L273.9,569.8L272.9,572.4L272.0,574.9L270.9,577.4L269.9,579.8L268.8,582.3L267.7,584.7L266.6,587.1L265.5,589.5L264.3,591.8L263.0,594.0L261.7,596.2L260.3,598.4L258.9,600.4L257.4,602.5L255.9,604.4L254.3,606.3L252.6,608.1L250.9,609.7L249.1,611.3L247.2,612.7L245.4,614.0L243.4,615.1L241.4,616.1L239.3,617.1L237.1,617.9L234.8,618.6L232.4,619.2L230.0,619.7L227.6,620.1L225.0,620.5L222.5,620.7L219.9,620.9L217.2,621.0L214.6,621.0L212.0,620.9L209.3,620.8L206.8,620.6L204.3,620.3L201.8,619.9L199.4,619.5L197.0,618.9L194.8,618.2L192.6,617.4L190.4,616.5L188.4,615.5L186.4,614.4L184.4,613.1L182.5,611.7L180.7,610.2L178.9,608.6L177.2,606.8L175.6,605.0L174.0,603.1L172.5,601.1L171.1,599.1L169.7,597.0L168.4,594.8L167.2,592.6L166.0,590.3L164.8,588.0L163.7,585.6L162.6,583.2L161.5,580.7L160.5,578.3L159.5,575.8L158.5,573.2L157.5,570.7L156.6,568.2L155.7,565.6L154.8,563.1L153.9,560.5L153.0,557.9L152.2,555.4L151.4,552.8L150.6,550.2L149.8,547.6L149.1,545.0L148.4,542.4L147.6,539.8L147.0,537.1L146.3,534.5L145.6,531.9L145.0,529.2L144.4,526.6L143.8,523.9L143.2,521.3L142.7,518.6L142.1,516.0L141.6,513.3L141.1,510.6L140.6,507.9L140.1,505.3L139.7,502.6L139.2,499.9L138.8,497.2L138.4,494.5L138.0,491.8L137.6,489.1L137.3,486.4L136.9,483.7L136.6,481.0L136.3,478.3L136.0,475.6L135.7,472.9L135.4,470.2L135.2,467.4L134.9,464.7L134.7,462.0L134.5,459.3L134.3,456.6L134.1,453.8L133.9,451.1L133.7,448.4L133.6,445.6L133.4,442.9L133.3,440.2L133.1,437.4L133.0,434.7L132.9,431.9L132.8,429.2L132.8,426.4L132.7,423.7L132.6,421.0L132.6,418.2L132.5,415.5L132.5,412.7L132.4,410.0L132.4,407.2L132.4,404.5L132.4,401.7L132.4,399.0L132.4,396.2L132.4,393.5L132.5,390.7L132.5,388.0L132.5,385.2L132.6,382.5L132.6,379.7L132.7,377.0L132.8,374.2L132.9,371.5L132.9,368.7L133.0,366.0L133.1,363.2L133.2,360.5L133.4,357.7L133.5,355.0L133.6,352.2L133.7,349.5L133.9,346.8L134.0,344.0L134.2,341.3L134.3,338.5L134.5,335.8L134.7,333.1L134.9,330.3L135.1,327.6L135.3,324.9L135.5,322.1L135.7,319.4L135.9,316.7L136.2,314.0L136.5,311.2L136.7,308.5L137.0,305.8L137.3,303.1L137.6,300.4L138.0,297.7L138.3,295.0L138.7,292.3L139.0,289.6L139.4,286.9L139.8,284.2L140.3,281.5L140.7,278.8L141.1,276.0L141.6,273.3L142.0,270.6L142.5,267.9L143.0,265.2L143.5,262.5L144.0,259.8L144.5,257.1L145.0,254.4L145.5,251.7L146.1,249.0L146.6,246.3L147.1,243.5L147.7,240.8L148.2,238.1L148.7,235.4L149.2,232.7L149.7,230.0L150.1,227.3L150.4,224.5L150.8,221.8L151.2,219.1L151.5,216.3L151.9,213.6L152.2,210.8L152.6,208.0L152.9,205.2L153.3,202.3L153.6,199.4L154.0,196.6L154.4,193.9L154.9,191.3L155.5,188.9L156.2,186.6L157.2,184.7Z" fill="#6e1c44"/>
<path d="M159.6,184.0L160.9,182.7L162.2,181.5L163.8,180.5L165.5,179.7L167.3,179.1L169.2,178.8L171.1,178.7L173.1,178.8L175.2,179.1L177.4,179.7L179.7,180.5L182.0,181.4L184.4,182.5L186.9,183.7L189.4,185.0L192.1,186.4L194.8,187.7L197.6,188.9L200.5,190.0L203.5,191.0L206.6,191.7L209.9,192.2L213.2,192.4L216.5,192.1L219.7,191.4L222.8,190.6L225.7,189.6L228.5,188.5L231.3,187.3L234.0,186.1L236.6,184.9L239.1,183.8L241.6,182.9L244.0,182.1L246.3,181.4L248.6,181.0L250.8,180.7L253.0,180.6L255.0,180.7L256.9,181.0L258.6,181.5L260.3,182.2L262.0,183.2L263.6,184.4L265.3,185.9L266.9,187.6L268.4,189.5L269.7,191.7L270.9,193.9L272.0,196.1L273.0,198.4L273.9,200.7L274.7,203.1L275.4,205.5L276.0,207.9L276.6,210.4L277.1,212.9L277.6,215.5L278.0,218.1L278.4,220.7L278.8,223.4L279.2,226.1L279.5,228.8L279.8,231.5L280.3,234.2L280.9,236.9L281.4,239.6L281.9,242.2L282.4,244.9L282.8,247.6L283.3,250.3L283.7,253.0L284.2,255.7L284.6,258.4L285.0,261.1L285.4,263.7L285.8,266.4L286.2,269.1L286.6,271.8L286.9,274.5L287.3,277.2L287.6,279.9L287.9,282.6L288.2,285.4L288.5,288.1L288.8,290.8L289.1,293.5L289.3,296.2L289.6,298.9L289.8,301.6L290.0,304.3L290.3,307.0L290.5,309.8L290.7,312.5L290.8,315.2L291.0,317.9L291.2,320.7L291.3,323.4L291.5,326.1L291.6,328.9L291.8,331.6L291.9,334.3L292.0,337.1L292.1,339.8L292.2,342.6L292.3,345.3L292.4,348.0L292.5,350.8L292.6,353.5L292.7,356.3L292.7,359.0L292.8,361.8L292.8,364.5L292.9,367.3L292.9,370.0L293.0,372.8L293.0,375.6L293.1,378.3L293.1,381.1L293.1,383.8L293.1,386.6L293.2,389.4L293.2,392.1L293.2,394.9L293.2,397.7L293.2,400.4L293.3,403.2L293.3,406.0L293.3,408.7L293.3,411.5L293.3,414.3L293.3,417.0L293.3,419.8L293.3,422.5L293.3,425.3L293.3,428.0L293.3,430.7L293.2,433.4L293.2,436.2L293.1,438.9L293.0,441.6L292.9,444.3L292.8,447.0L292.7,449.7L292.6,452.3L292.4,455.0L292.2,457.7L292.0,460.3L291.7,463.0L291.5,465.6L291.2,468.3L290.8,470.9L290.5,473.6L290.1,476.2L289.7,478.9L289.2,481.6L288.8,484.3L288.3,487.1L287.9,489.8L287.5,492.6L287.0,495.5L286.6,498.3L286.3,501.2L285.9,504.0L285.6,506.8L285.3,509.5L285.0,512.3L284.7,514.9L284.4,517.6L284.0,520.2L283.6,522.8L283.2,525.5L282.7,528.1L282.3,530.7L281.8,533.3L281.2,535.9L280.6,538.5L280.1,541.1L279.4,543.6L278.8,546.2L278.1,548.8L277.4,551.3L276.6,553.9L275.8,556.4L275.0,558.9L274.2,561.4L273.3,563.9L272.4,566.4L271.5,568.9L270.5,571.4L269.5,573.9L268.5,576.4L267.5,578.8L266.5,581.3L265.4,583.6L264.3,586.0L263.1,588.3L262.0,590.5L260.8,592.7L259.5,594.9L258.2,596.9L256.8,598.9L255.4,600.9L253.9,602.8L252.3,604.5L250.7,606.2L249.1,607.8L247.4,609.3L245.7,610.6L244.0,611.8L242.2,612.8L240.3,613.8L238.3,614.6L236.2,615.4L234.1,616.1L231.8,616.7L229.5,617.1L227.2,617.5L224.7,617.9L222.3,618.1L219.7,618.3L217.2,618.4L214.6,618.4L212.0,618.3L209.5,618.2L207.0,618.0L204.6,617.7L202.2,617.4L199.9,616.9L197.7,616.4L195.6,615.8L193.5,615.0L191.5,614.2L189.6,613.2L187.7,612.2L185.9,611.0L184.1,609.7L182.4,608.3L180.8,606.7L179.1,605.1L177.6,603.3L176.1,601.5L174.6,599.6L173.2,597.6L171.9,595.6L170.7,593.5L169.4,591.3L168.3,589.1L167.1,586.8L166.0,584.5L165.0,582.1L163.9,579.7L162.9,577.3L161.9,574.8L160.9,572.3L160.0,569.8L159.0,567.3L158.1,564.8L157.2,562.2L156.4,559.7L155.5,557.1L154.7,554.6L153.9,552.0L153.1,549.4L152.3,546.9L151.6,544.3L150.9,541.7L150.2,539.1L149.5,536.5L148.8,533.9L148.2,531.2L147.5,528.6L146.9,526.0L146.3,523.4L145.8,520.7L145.2,518.1L144.7,515.4L144.1,512.8L143.6,510.1L143.2,507.5L142.7,504.8L142.2,502.2L141.8,499.5L141.4,496.8L141.0,494.1L140.6,491.5L140.2,488.8L139.9,486.1L139.5,483.4L139.2,480.7L138.9,478.0L138.6,475.3L138.3,472.6L138.0,469.9L137.8,467.2L137.5,464.5L137.3,461.8L137.1,459.1L136.9,456.4L136.7,453.6L136.5,450.9L136.3,448.2L136.2,445.5L136.0,442.8L135.9,440.0L135.7,437.3L135.6,434.6L135.5,431.8L135.4,429.1L135.3,426.4L135.3,423.6L135.2,420.9L135.2,418.2L135.1,415.4L135.1,412.7L135.0,409.9L135.0,407.2L135.0,404.5L135.0,401.7L135.0,399.0L135.0,396.2L135.0,393.5L135.1,390.7L135.1,388.0L135.1,385.3L135.2,382.5L135.2,379.8L135.3,377.0L135.4,374.3L135.5,371.6L135.5,368.8L135.6,366.1L135.7,363.3L135.8,360.6L136.0,357.9L136.1,355.1L136.2,352.4L136.3,349.6L136.5,346.9L136.6,344.2L136.8,341.4L136.9,338.7L137.1,336.0L137.3,333.2L137.5,330.5L137.6,327.8L137.9,325.1L138.1,322.3L138.3,319.6L138.5,316.9L138.8,314.2L139.0,311.5L139.3,308.8L139.6,306.1L139.9,303.4L140.2,300.7L140.5,298.0L140.9,295.3L141.2,292.6L141.6,289.9L142.0,287.2L142.4,284.6L142.8,281.9L143.2,279.2L143.7,276.5L144.1,273.8L144.6,271.1L145.1,268.4L145.6,265.7L146.1,263.0L146.6,260.3L147.1,257.6L147.6,254.9L148.1,252.2L148.6,249.5L149.1,246.8L149.7,244.0L150.2,241.3L150.7,238.6L151.3,235.9L151.8,233.2L152.2,230.5L152.5,227.7L152.8,225.0L153.1,222.2L153.4,219.5L153.7,216.7L154.0,214.0L154.3,211.2L154.6,208.4L154.9,205.5L155.2,202.6L155.5,199.8L155.8,197.0L156.1,194.3L156.5,191.8L157.0,189.4L157.7,187.3L158.6,185.5Z" fill="#ff3ab8"/>
<g clip-path="url(#clipP)">
<path d="M161.8,185.7L162.8,184.7L163.9,183.8L165.2,183.0L166.5,182.3L168.0,181.9L169.5,181.6L171.1,181.5L172.8,181.6L174.6,181.9L176.6,182.4L178.7,183.1L180.9,184.0L183.2,185.0L185.6,186.2L188.2,187.5L190.8,188.9L193.6,190.2L196.5,191.5L199.6,192.7L202.8,193.7L206.1,194.5L209.6,195.0L213.3,195.2L216.9,194.9L220.3,194.2L223.6,193.3L226.7,192.2L229.6,191.0L232.4,189.8L235.1,188.6L237.7,187.5L240.2,186.4L242.5,185.5L244.8,184.7L247.0,184.1L249.1,183.7L251.1,183.5L252.9,183.4L254.7,183.5L256.3,183.7L257.7,184.1L259.1,184.7L260.4,185.5L261.8,186.6L263.3,187.9L264.8,189.5L266.2,191.3L267.4,193.3L268.5,195.4L269.4,197.6L270.3,199.8L271.1,202.0L271.8,204.3L272.4,206.6L273.0,209.0L273.5,211.4L273.9,213.8L274.3,216.4L274.6,218.9L275.0,221.5L275.3,224.2L275.6,226.9L275.8,229.6L276.1,232.3L276.6,234.9L277.1,237.6L277.6,240.3L278.1,242.9L278.6,245.6L279.1,248.3L279.5,250.9L280.0,253.6L280.4,256.3L280.8,258.9L281.3,261.6L281.7,264.3L282.0,267.0L282.4,269.7L282.8,272.3L283.1,275.0L283.5,277.7L283.8,280.4L284.1,283.1L284.4,285.8L284.7,288.5L285.0,291.2L285.3,293.8L285.5,296.5L285.8,299.2L286.0,301.9L286.2,304.6L286.5,307.3L286.7,310.1L286.9,312.8L287.1,315.5L287.2,318.2L287.4,320.9L287.6,323.6L287.7,326.3L287.8,329.1L288.0,331.8L288.1,334.5L288.2,337.2L288.3,340.0L288.4,342.7L288.5,345.4L288.6,348.2L288.7,350.9L288.8,353.6L288.9,356.4L288.9,359.1L289.0,361.9L289.0,364.6L289.1,367.4L289.1,370.1L289.2,372.9L289.2,375.6L289.3,378.4L289.3,381.1L289.3,383.9L289.3,386.6L289.4,389.4L289.4,392.2L289.4,394.9L289.4,397.7L289.4,400.4L289.5,403.2L289.5,406.0L289.5,408.7L289.5,411.5L289.5,414.3L289.5,417.0L289.5,419.8L289.5,422.5L289.5,425.2L289.5,428.0L289.5,430.7L289.4,433.4L289.4,436.1L289.3,438.8L289.2,441.5L289.1,444.1L289.0,446.8L288.9,449.5L288.8,452.1L288.6,454.8L288.4,457.4L288.2,460.0L287.9,462.6L287.7,465.2L287.4,467.8L287.1,470.4L286.7,473.0L286.3,475.7L285.9,478.3L285.5,481.0L285.0,483.7L284.6,486.5L284.1,489.2L283.7,492.1L283.3,494.9L282.9,497.8L282.5,500.7L282.2,503.6L281.8,506.4L281.5,509.1L281.2,511.8L280.9,514.5L280.6,517.1L280.2,519.7L279.9,522.3L279.4,524.8L279.0,527.4L278.5,530.0L278.0,532.5L277.5,535.1L276.9,537.7L276.4,540.2L275.7,542.7L275.1,545.3L274.4,547.8L273.7,550.3L273.0,552.8L272.2,555.3L271.4,557.7L270.6,560.2L269.7,562.7L268.8,565.1L267.9,567.6L267.0,570.0L266.0,572.5L265.0,574.9L264.0,577.3L263.0,579.7L261.9,582.1L260.9,584.3L259.8,586.6L258.6,588.7L257.5,590.8L256.3,592.9L255.0,594.8L253.7,596.7L252.4,598.6L251.0,600.3L249.5,602.0L248.0,603.6L246.5,605.0L245.0,606.3L243.5,607.5L241.9,608.6L240.3,609.5L238.7,610.3L236.9,611.1L235.0,611.8L233.0,612.4L231.0,613.0L228.8,613.4L226.6,613.8L224.3,614.1L222.0,614.3L219.5,614.5L217.1,614.6L214.6,614.6L212.2,614.5L209.7,614.4L207.4,614.2L205.1,614.0L202.9,613.6L200.8,613.2L198.7,612.7L196.7,612.1L194.9,611.5L193.1,610.7L191.3,609.9L189.7,608.9L188.1,607.9L186.5,606.7L184.9,605.4L183.4,604.0L181.9,602.5L180.4,600.8L179.0,599.1L177.7,597.4L176.4,595.5L175.1,593.6L173.9,591.6L172.8,589.5L171.6,587.4L170.6,585.2L169.5,582.9L168.4,580.6L167.4,578.3L166.4,575.8L165.4,573.4L164.5,570.9L163.5,568.5L162.6,566.0L161.7,563.5L160.8,561.0L160.0,558.5L159.1,555.9L158.3,553.4L157.5,550.9L156.7,548.3L156.0,545.8L155.2,543.2L154.5,540.7L153.8,538.1L153.1,535.5L152.5,532.9L151.8,530.4L151.2,527.8L150.6,525.2L150.0,522.5L149.5,519.9L148.9,517.3L148.4,514.7L147.9,512.1L147.4,509.4L146.9,506.8L146.4,504.2L146.0,501.5L145.6,498.9L145.1,496.2L144.7,493.6L144.4,490.9L144.0,488.3L143.6,485.6L143.3,482.9L143.0,480.3L142.7,477.6L142.4,474.9L142.1,472.2L141.8,469.5L141.5,466.9L141.3,464.2L141.1,461.5L140.9,458.8L140.6,456.1L140.5,453.4L140.3,450.7L140.1,448.0L139.9,445.3L139.8,442.6L139.7,439.8L139.5,437.1L139.4,434.4L139.3,431.7L139.2,429.0L139.1,426.3L139.1,423.5L139.0,420.8L139.0,418.1L138.9,415.4L138.9,412.6L138.8,409.9L138.8,407.2L138.8,404.4L138.8,401.7L138.8,399.0L138.8,396.3L138.8,393.5L138.9,390.8L138.9,388.1L138.9,385.3L139.0,382.6L139.0,379.9L139.1,377.1L139.2,374.4L139.3,371.7L139.3,368.9L139.4,366.2L139.5,363.5L139.6,360.7L139.7,358.0L139.9,355.3L140.0,352.5L140.1,349.8L140.3,347.1L140.4,344.4L140.6,341.6L140.7,338.9L140.9,336.2L141.1,333.5L141.2,330.8L141.4,328.1L141.6,325.4L141.9,322.7L142.1,320.0L142.3,317.3L142.6,314.6L142.8,311.9L143.1,309.2L143.4,306.5L143.7,303.8L144.0,301.1L144.3,298.5L144.7,295.8L145.0,293.1L145.4,290.5L145.8,287.8L146.2,285.1L146.6,282.5L147.0,279.8L147.4,277.1L147.9,274.4L148.4,271.7L148.8,269.0L149.3,266.4L149.8,263.7L150.3,261.0L150.8,258.3L151.3,255.6L151.8,252.9L152.4,250.2L152.9,247.5L153.4,244.8L153.9,242.1L154.5,239.4L155.0,236.7L155.5,233.9L155.9,231.2L156.2,228.4L156.4,225.7L156.7,222.9L156.9,220.1L157.2,217.4L157.4,214.6L157.6,211.8L157.9,208.9L158.1,206.1L158.3,203.2L158.5,200.3L158.7,197.6L159.0,195.0L159.3,192.5L159.7,190.4L160.2,188.5L161.0,186.9Z" fill="none" stroke="#ff5ecc" stroke-width="7" filter="url(#b1)"/>
<path d="M163.3,186.8L164.0,186.0L165.0,185.2L166.0,184.6L167.2,184.0L168.5,183.6L169.7,183.4L171.1,183.3L172.6,183.4L174.3,183.6L176.1,184.1L178.1,184.8L180.2,185.6L182.4,186.7L184.8,187.8L187.3,189.1L190.0,190.5L192.9,191.8L195.9,193.1L199.0,194.4L202.3,195.4L205.8,196.3L209.5,196.8L213.3,197.0L217.1,196.7L220.7,195.9L224.1,195.0L227.3,193.9L230.3,192.7L233.1,191.5L235.8,190.3L238.4,189.1L240.8,188.1L243.2,187.2L245.3,186.5L247.4,185.9L249.3,185.5L251.2,185.3L252.9,185.2L254.5,185.3L255.9,185.5L257.1,185.8L258.3,186.3L259.4,187.0L260.7,188.0L262.1,189.2L263.4,190.7L264.8,192.4L265.9,194.3L266.9,196.4L267.8,198.5L268.6,200.6L269.4,202.8L270.0,205.0L270.6,207.3L271.1,209.6L271.5,212.0L271.9,214.4L272.3,216.9L272.6,219.4L272.9,222.0L273.2,224.6L273.5,227.3L273.7,230.0L274.0,232.7L274.4,235.4L275.0,238.0L275.5,240.7L276.0,243.3L276.4,246.0L276.9,248.6L277.4,251.3L277.8,254.0L278.3,256.6L278.7,259.3L279.1,262.0L279.5,264.6L279.9,267.3L280.2,270.0L280.6,272.6L281.0,275.3L281.3,278.0L281.6,280.7L281.9,283.3L282.2,286.0L282.5,288.7L282.8,291.4L283.1,294.1L283.3,296.7L283.6,299.4L283.8,302.1L284.1,304.8L284.3,307.5L284.5,310.2L284.7,312.9L284.9,315.6L285.0,318.3L285.2,321.0L285.4,323.7L285.5,326.5L285.6,329.2L285.8,331.9L285.9,334.6L286.0,337.3L286.1,340.1L286.2,342.8L286.3,345.5L286.4,348.2L286.5,351.0L286.6,353.7L286.7,356.4L286.7,359.2L286.8,361.9L286.8,364.7L286.9,367.4L286.9,370.1L287.0,372.9L287.0,375.6L287.1,378.4L287.1,381.1L287.1,383.9L287.1,386.7L287.2,389.4L287.2,392.2L287.2,394.9L287.2,397.7L287.2,400.5L287.3,403.2L287.3,406.0L287.3,408.7L287.3,411.5L287.3,414.3L287.3,417.0L287.3,419.8L287.3,422.5L287.3,425.2L287.3,427.9L287.3,430.6L287.2,433.3L287.2,436.0L287.1,438.7L287.0,441.4L286.9,444.1L286.8,446.7L286.7,449.3L286.6,452.0L286.4,454.6L286.2,457.2L286.0,459.8L285.8,462.4L285.5,465.0L285.2,467.6L284.9,470.2L284.5,472.7L284.2,475.3L283.8,478.0L283.3,480.6L282.9,483.3L282.4,486.1L282.0,488.9L281.5,491.7L281.1,494.6L280.7,497.5L280.3,500.4L280.0,503.3L279.7,506.1L279.3,508.9L279.0,511.6L278.7,514.2L278.4,516.8L278.1,519.4L277.7,521.9L277.3,524.5L276.8,527.0L276.4,529.6L275.9,532.1L275.3,534.6L274.8,537.2L274.2,539.7L273.6,542.2L273.0,544.7L272.3,547.2L271.6,549.7L270.9,552.1L270.1,554.6L269.3,557.0L268.5,559.5L267.7,561.9L266.8,564.4L265.9,566.8L264.9,569.2L264.0,571.7L263.0,574.1L262.0,576.5L261.0,578.8L259.9,581.1L258.9,583.4L257.8,585.6L256.7,587.7L255.5,589.7L254.4,591.7L253.2,593.6L251.9,595.5L250.6,597.2L249.3,598.9L247.9,600.5L246.5,602.0L245.1,603.4L243.6,604.6L242.2,605.7L240.8,606.7L239.3,607.6L237.7,608.3L236.1,609.1L234.3,609.7L232.4,610.3L230.5,610.8L228.4,611.3L226.3,611.6L224.1,611.9L221.8,612.1L219.4,612.3L217.0,612.4L214.6,612.4L212.2,612.3L209.9,612.2L207.6,612.1L205.4,611.8L203.3,611.5L201.2,611.1L199.3,610.6L197.4,610.0L195.7,609.4L194.0,608.7L192.4,607.9L190.8,607.0L189.3,606.1L187.9,605.0L186.4,603.7L184.9,602.4L183.5,601.0L182.1,599.4L180.8,597.8L179.5,596.1L178.2,594.3L177.0,592.4L175.8,590.5L174.7,588.5L173.6,586.4L172.5,584.2L171.5,582.0L170.5,579.7L169.5,577.4L168.5,575.0L167.5,572.6L166.5,570.1L165.6,567.7L164.7,565.2L163.8,562.7L162.9,560.3L162.0,557.8L161.2,555.3L160.4,552.7L159.6,550.2L158.8,547.7L158.1,545.2L157.4,542.6L156.6,540.1L156.0,537.5L155.3,535.0L154.6,532.4L154.0,529.8L153.4,527.3L152.8,524.7L152.2,522.1L151.6,519.5L151.1,516.9L150.5,514.3L150.0,511.7L149.5,509.0L149.1,506.4L148.6,503.8L148.2,501.2L147.7,498.5L147.3,495.9L146.9,493.3L146.5,490.6L146.2,488.0L145.8,485.3L145.5,482.7L145.1,480.0L144.8,477.3L144.5,474.7L144.3,472.0L144.0,469.3L143.7,466.7L143.5,464.0L143.3,461.3L143.0,458.6L142.8,455.9L142.7,453.2L142.5,450.5L142.3,447.8L142.1,445.1L142.0,442.4L141.9,439.7L141.7,437.0L141.6,434.3L141.5,431.6L141.4,428.9L141.3,426.2L141.3,423.5L141.2,420.8L141.2,418.0L141.1,415.3L141.1,412.6L141.0,409.9L141.0,407.2L141.0,404.4L141.0,401.7L141.0,399.0L141.0,396.3L141.0,393.5L141.1,390.8L141.1,388.1L141.1,385.4L141.2,382.6L141.2,379.9L141.3,377.2L141.4,374.5L141.5,371.7L141.5,369.0L141.6,366.3L141.7,363.6L141.8,360.8L141.9,358.1L142.1,355.4L142.2,352.7L142.3,349.9L142.5,347.2L142.6,344.5L142.8,341.8L142.9,339.1L143.1,336.3L143.3,333.6L143.4,330.9L143.6,328.2L143.8,325.5L144.1,322.8L144.3,320.1L144.5,317.5L144.8,314.8L145.0,312.1L145.3,309.4L145.6,306.7L145.9,304.1L146.2,301.4L146.5,298.7L146.8,296.1L147.2,293.4L147.6,290.8L147.9,288.1L148.3,285.5L148.7,282.8L149.2,280.1L149.6,277.5L150.1,274.8L150.5,272.1L151.0,269.4L151.5,266.7L152.0,264.1L152.5,261.4L153.0,258.7L153.5,256.0L154.0,253.3L154.5,250.6L155.0,247.9L155.6,245.2L156.1,242.5L156.6,239.8L157.2,237.1L157.7,234.4L158.1,231.6L158.3,228.9L158.5,226.1L158.7,223.3L159.0,220.5L159.2,217.7L159.4,215.0L159.6,212.1L159.8,209.3L160.0,206.4L160.2,203.5L160.4,200.7L160.6,197.9L160.8,195.4L161.1,193.1L161.4,191.0L161.9,189.2L162.6,187.9Z" fill="url(#pinkh)" filter="url(#b1)"/>
<rect x="120" y="170" width="190" height="460" fill="url(#pinkc)" opacity="0.6"/>
</g>
<!-- plus -->
<circle cx="214.4" cy="259.2" r="36" fill="url(#plusg)" opacity="0.85" filter="url(#b1)"/>
<rect x="209" y="232.2" width="11.2" height="52.8" fill="#fff"/>
<rect x="189.8" y="253.8" width="49.4" height="10.8" fill="#fff"/>
<!-- power -->
<rect x="210" y="356.8" width="9.2" height="27.6" rx="2" fill="#fff"/>
<path d="M193.2,373.2 A23.4,23.4 0 1 0 236.2,373.2" fill="none" stroke="#fff" stroke-width="7.8"/>
<!-- T -->
<circle cx="214.3" cy="513.3" r="34" fill="url(#tg)" filter="url(#b2)"/>
<path d="M185,500 A34,34 0 0 1 243.6,500" fill="none" stroke="#ff64cc" stroke-width="4" opacity="0.8" filter="url(#b2)"/>
<path d="M186,532 A34,34 0 0 0 242.6,532" fill="none" stroke="#ff2aaa" stroke-width="4" opacity="0.6" filter="url(#b2)"/>
<rect x="203.6" y="499.2" width="22.2" height="5.6" fill="#fff"/>
<rect x="211.4" y="499.2" width="6.6" height="30.6" fill="#fff"/>
<path d="M199,532 A22.6,22.6 0 0 1 216,492.3" fill="none" stroke="#fff" stroke-width="5.4"/>
<path d="M214.4,486.6 L221,490.8 L214.4,495 Z" fill="#fff"/>
<path d="M229.5,497 A22.6,22.6 0 0 1 213,537.3" fill="none" stroke="#fff" stroke-width="5.4"/>
<path d="M215,533 L208.6,537.5 L215,542 Z" fill="#fff"/>
<!-- logo -->
<g fill="#2a2a2a">
<path d="M156.6,134.6 C156.6,139.2 160.5,142.6 167,144.8 C166.8,141.8 162,137.8 156.6,134.6 Z"/>
<path d="M178.6,132.2 C178.9,137.6 173,142.2 167.8,144.7 C168.8,140.8 175,137.4 178.6,132.2 Z"/>
<path d="M160.8,145.2 C162.8,147.5 165,151 165.2,154.6 C166.8,151 166.4,147 162.6,144.9 Z"/>
<path d="M174,144.1 C173,147 170.2,151.5 169.2,154.2 C168,150.5 169.2,146.5 172.6,144.4 Z"/>
</g>
<g fill="none" stroke="#303030" stroke-width="2.3" stroke-linecap="butt">
<path d="M180.2,153.4 V145.2 A6.8,7 0 0 1 193.8,145.2 V153.4"/>
<circle cx="205.9" cy="145" r="7.7"/>
<path d="M213.8,137.5 V153"/>
<path d="M219.2,132.2 V152.8"/>
<circle cx="231" cy="145" r="7.5"/>
<path d="M242.9,153.6 V145.4 A6.85,7 0 0 1 256.6,145.4 V153.8"/>
<path d="M262,149.6 L275.6,144.6 A8.1,8.1 0 1 0 276,151.5"/>
</g>
<!-- callouts -->
<g fill="#000">
<circle cx="229.4" cy="244.4" r="6.4"/>
<circle cx="230.4" cy="365.4" r="6.4"/>
<circle cx="232.4" cy="488.4" r="6.4"/>
<circle cx="219.4" cy="647.2" r="6.4"/>
</g>
<g stroke="#000" stroke-width="1.2">
<line x1="229.4" y1="244.4" x2="421.3" y2="244.4"/>
<line x1="230.4" y1="365.4" x2="422.7" y2="365.4"/>
<line x1="232.4" y1="488.4" x2="424.3" y2="488.4"/>
<line x1="219.4" y1="647.2" x2="412" y2="647.2"/>
</g>
</svg>
<div class="lbl" style="left:429px;top:235px;font-size:18px;">Manual mode button</div>
<div class="lbl" style="left:428.5px;top:356px;font-size:18px;">ON/OFF button</div>
<div class="lbl" style="left:431px;top:479px;font-size:18px;">touch-sensitiive mode button</div>
<div class="lbl" style="left:420px;top:634px;font-size:24px;">inductive sheetmetal</div>
</body></html>
